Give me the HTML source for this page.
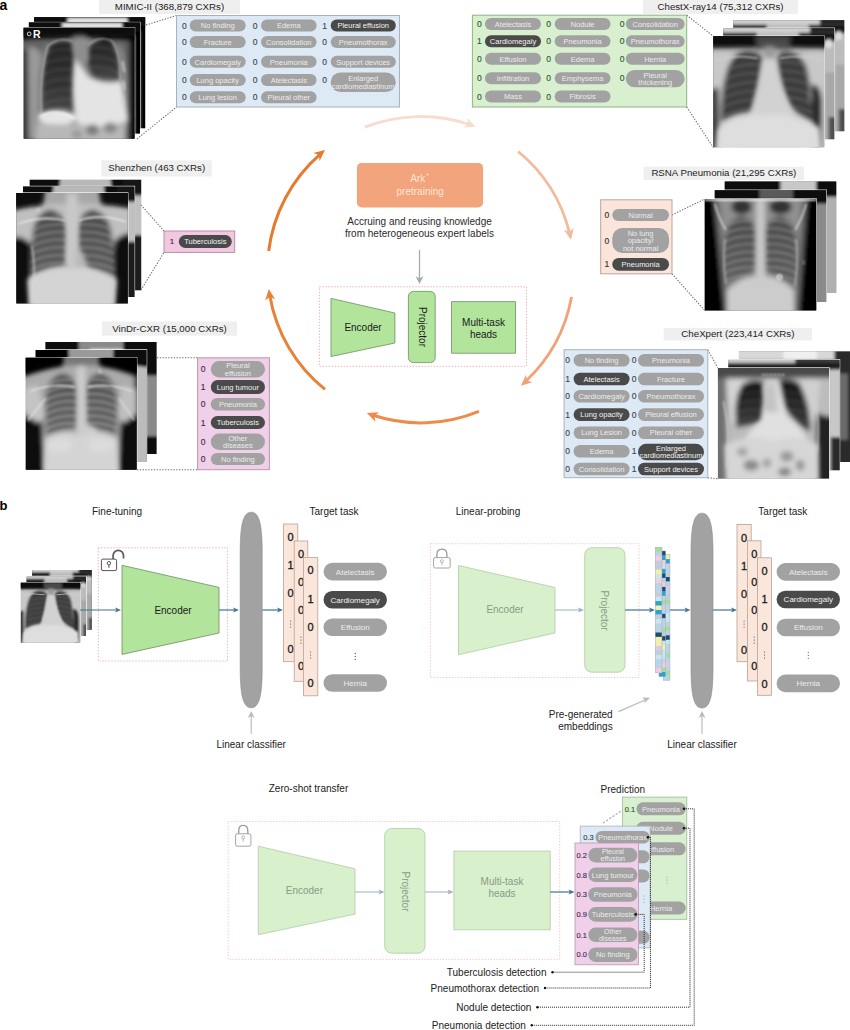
<!DOCTYPE html>
<html><head><meta charset="utf-8"><style>
html,body{margin:0;padding:0;background:#fff;}
body{width:850px;height:1030px;overflow:hidden;}
svg text{font-family:"Liberation Sans", sans-serif;}
</style></head><body>
<svg width="850" height="1030" viewBox="0 0 850 1030" style="display:block;font-family:"Liberation Sans", sans-serif">
<defs>
<filter id="xtex" x="0" y="0" width="100%" height="100%" filterUnits="userSpaceOnUse"><feTurbulence type="fractalNoise" baseFrequency="0.22" numOctaves="3" seed="5"/><feColorMatrix type="matrix" values="0 0 0 0 0  0 0 0 0 0  0 0 0 0 0  0 0 0 -3 1.6"/><feGaussianBlur stdDeviation="0.5"/></filter><filter id="xb0_6" x="-20%" y="-20%" width="140%" height="140%"><feGaussianBlur stdDeviation="0.6"/></filter><filter id="xb0_8" x="-20%" y="-20%" width="140%" height="140%"><feGaussianBlur stdDeviation="0.8"/></filter><filter id="xb1_0" x="-20%" y="-20%" width="140%" height="140%"><feGaussianBlur stdDeviation="1.0"/></filter><filter id="xb1_2" x="-20%" y="-20%" width="140%" height="140%"><feGaussianBlur stdDeviation="1.2"/></filter><filter id="xb1_5" x="-20%" y="-20%" width="140%" height="140%"><feGaussianBlur stdDeviation="1.5"/></filter><filter id="xb1_6" x="-20%" y="-20%" width="140%" height="140%"><feGaussianBlur stdDeviation="1.6"/></filter><filter id="xb2_0" x="-20%" y="-20%" width="140%" height="140%"><feGaussianBlur stdDeviation="2.0"/></filter><filter id="xb2_2" x="-20%" y="-20%" width="140%" height="140%"><feGaussianBlur stdDeviation="2.2"/></filter><filter id="xb2_5" x="-20%" y="-20%" width="140%" height="140%"><feGaussianBlur stdDeviation="2.5"/></filter><filter id="xb3_0" x="-20%" y="-20%" width="140%" height="140%"><feGaussianBlur stdDeviation="3.0"/></filter>
<linearGradient id="lg_sz" x1="0" y1="0" x2="0" y2="1"><stop offset="0" stop-color="#4a4a4a"/><stop offset="1" stop-color="#5e5e5e"/></linearGradient>
<linearGradient id="lg_vin" x1="0" y1="0" x2="0" y2="1"><stop offset="0" stop-color="#505050"/><stop offset="1" stop-color="#6a6a6a"/></linearGradient>
<linearGradient id="lg_rsna" x1="0" y1="0" x2="0" y2="1"><stop offset="0" stop-color="#4a4a4a"/><stop offset="1" stop-color="#606060"/></linearGradient>
<linearGradient id="lg_mim" x1="0" y1="0" x2="0" y2="1"><stop offset="0" stop-color="#242424"/><stop offset="0.6" stop-color="#333333"/><stop offset="1" stop-color="#4e4e4e"/></linearGradient>
<linearGradient id="lg_chx" x1="0" y1="0" x2="0" y2="1"><stop offset="0" stop-color="#141414"/><stop offset="1" stop-color="#404040"/></linearGradient>
<symbol id="cx_mimic" viewBox="0 0 100 100" preserveAspectRatio="none"><clipPath id="cl_cx_mimic"><path d="M16 78 Q14 40 22 16 Q32 8 44 12 L47 28 L46 80 Q30 82 16 78 Z"/><path d="M58 16 Q68 6 80 12 Q88 24 87 48 Q74 50 62 46 L57 34 Z"/></clipPath><rect width="100" height="100" fill="#060606"/><g filter="url(#xb2_2)"><path d="M-10 -10 H110 V110 H-10 Z" fill="#080808"/><path d="M-4 12 Q40 6 96 12 L96 104 L-4 104 Z" fill="#646464"/><path d="M-4 20 L5 20 L5 104 L-4 104 Z" fill="#3a3a3a"/><path d="M4 18 Q10 16 15 22 L15 100 L5 100 Z" fill="#9a9a9a"/><path d="M95 8 L106 8 L106 104 L95 104 Z" fill="#060606"/><path d="M88 20 Q96 30 95 60 L95 104 L88 104 Z" fill="#5e5e5e"/><path d="M12 92 Q8 40 20 16 Q34 6 50 10 Q76 6 88 18 Q96 40 92 90 Z" fill="#909090"/><path d="M16 78 Q14 40 22 16 Q32 8 44 12 L47 28 L46 80 Q30 82 16 78 Z" fill="url(#lg_mim)"/><path d="M58 16 Q68 6 80 12 Q88 24 87 48 Q74 50 62 46 L57 34 Z" fill="url(#lg_mim)"/></g><g filter="url(#xb1_6)"><g clip-path="url(#cl_cx_mimic)"><path d="M47 20 Q28.85 17 14 26" fill="none" stroke="#8a8a8a" stroke-opacity="0.15" stroke-width="2.4"/><path d="M47 29 Q28.85 26 14 35" fill="none" stroke="#8a8a8a" stroke-opacity="0.15" stroke-width="2.4"/><path d="M47 38 Q28.85 35 14 44" fill="none" stroke="#8a8a8a" stroke-opacity="0.15" stroke-width="2.4"/><path d="M47 47 Q28.85 44 14 53" fill="none" stroke="#8a8a8a" stroke-opacity="0.15" stroke-width="2.4"/><path d="M47 56 Q28.85 53 14 62" fill="none" stroke="#8a8a8a" stroke-opacity="0.15" stroke-width="2.4"/><path d="M47 65 Q28.85 62 14 71" fill="none" stroke="#8a8a8a" stroke-opacity="0.15" stroke-width="2.4"/><path d="M47 74 Q28.85 71 14 80" fill="none" stroke="#8a8a8a" stroke-opacity="0.15" stroke-width="2.4"/><path d="M56 18 Q73.6 15 88 24" fill="none" stroke="#8a8a8a" stroke-opacity="0.15" stroke-width="2.4"/><path d="M56 27 Q73.6 24 88 33" fill="none" stroke="#8a8a8a" stroke-opacity="0.15" stroke-width="2.4"/><path d="M56 36 Q73.6 33 88 42" fill="none" stroke="#8a8a8a" stroke-opacity="0.15" stroke-width="2.4"/><path d="M56 45 Q73.6 42 88 51" fill="none" stroke="#8a8a8a" stroke-opacity="0.15" stroke-width="2.4"/></g></g><g filter="url(#xb2_2)"><path d="M45 4 L56 4 L57 30 L46 30 Z" fill="#8e8e8e"/><path d="M46 28 Q52 34 58 44 Q74 52 88 48 L94 84 Q70 94 48 86 Q42 60 46 28 Z" fill="#e4e4e4"/><ellipse cx="30" cy="81" rx="17" ry="7" fill="#e6e6e6"/><path d="M12 86 Q40 88 50 86 Q70 94 92 86 L92 104 L10 104 Z" fill="#b8b8b8"/><ellipse cx="62" cy="92" rx="6" ry="5" fill="#7a7a7a"/><ellipse cx="78" cy="90" rx="6" ry="5" fill="#868686"/><ellipse cx="48" cy="96" rx="5" ry="4" fill="#9a9a9a"/><path d="M-10 -10 L110 -10 L110 8 L-10 8 Z" fill="#090909"/></g><g filter="url(#xb0_8)"><path d="M16 78 Q14 40 22 16 Q32 8 44 12" fill="none" stroke="#b8b8b8" stroke-width="1.2"/><path d="M58 16 Q68 6 80 12 Q88 24 87 48" fill="none" stroke="#b0b0b0" stroke-width="1.2"/><path d="M15 80 Q30 72 46 82" fill="none" stroke="#f4f4f4" stroke-width="1.6"/><path d="M89 30 L91 40 M90 48 L91 56 M89 62 L90 70" stroke="#d0d0d0" stroke-width="1.4"/></g><text x="8.5" y="9.5" font-size="9.5" font-weight="bold" fill="#ffffff" font-family="Liberation Sans">R</text><circle cx="5" cy="5.5" r="1.7" fill="none" stroke="#ddd" stroke-width="0.9"/></symbol>
<symbol id="cx_mimic_b" viewBox="0 0 100 100" preserveAspectRatio="none"><clipPath id="cl_cx_mimic_b"><path d="M16 78 Q14 40 22 16 Q32 8 44 12 L47 28 L46 80 Q30 82 16 78 Z"/><path d="M58 16 Q68 6 80 12 Q88 24 87 48 Q74 50 62 46 L57 34 Z"/></clipPath><rect width="100" height="100" fill="#060606"/><g filter="url(#xb1_6)"><path d="M-10 -10 H110 V110 H-10 Z" fill="#080808"/><path d="M-4 12 Q40 6 96 12 L96 104 L-4 104 Z" fill="#646464"/><path d="M-4 20 L5 20 L5 104 L-4 104 Z" fill="#3a3a3a"/><path d="M4 18 Q10 16 15 22 L15 100 L5 100 Z" fill="#9a9a9a"/><path d="M95 8 L106 8 L106 104 L95 104 Z" fill="#060606"/><path d="M88 20 Q96 30 95 60 L95 104 L88 104 Z" fill="#5e5e5e"/><path d="M12 92 Q8 40 20 16 Q34 6 50 10 Q76 6 88 18 Q96 40 92 90 Z" fill="#909090"/><path d="M16 78 Q14 40 22 16 Q32 8 44 12 L47 28 L46 80 Q30 82 16 78 Z" fill="#3a3a3a"/><path d="M58 16 Q68 6 80 12 Q88 24 87 48 Q74 50 62 46 L57 34 Z" fill="#3a3a3a"/></g><g filter="url(#xb1_6)"><g clip-path="url(#cl_cx_mimic_b)"></g></g><g filter="url(#xb1_6)"><path d="M45 4 L56 4 L57 30 L46 30 Z" fill="#8e8e8e"/><path d="M46 28 Q52 34 58 44 Q74 52 88 48 L94 84 Q70 94 48 86 Q42 60 46 28 Z" fill="#e4e4e4"/><ellipse cx="30" cy="81" rx="17" ry="7" fill="#e6e6e6"/><path d="M12 86 Q40 88 50 86 Q70 94 92 86 L92 104 L10 104 Z" fill="#b8b8b8"/><ellipse cx="62" cy="92" rx="6" ry="5" fill="#7a7a7a"/><ellipse cx="78" cy="90" rx="6" ry="5" fill="#868686"/><ellipse cx="48" cy="96" rx="5" ry="4" fill="#9a9a9a"/><path d="M-10 -10 L110 -10 L110 8 L-10 8 Z" fill="#090909"/><path d="M30 0.5 L84 0.5 L84 5.5 L30 5.5 Z" fill="#e8e8e8"/></g><g filter="url(#xb0_8)"></g></symbol>
<symbol id="cx_14" viewBox="0 0 100 100" preserveAspectRatio="none"><clipPath id="cl_cx_14"><path d="M25 14 Q38 10 45 20 L41 45 Q37 60 35 68 Q20 70 7 77 Q7 50 11 36 Q15 18 25 14 Z"/><path d="M65 14 Q78 13 84 28 Q88 44 87 56 Q90 70 91 79 Q78 72 69 65 Q60 50 57 20 Q60 13 65 14 Z"/></clipPath><rect width="100" height="100" fill="#060606"/><g filter="url(#xb2_2)"><path d="M-10 -10 H110 V110 H-10 Z" fill="#0a0a0a"/><path d="M-4 11 Q50 8 104 11 L104 104 L-4 104 Z" fill="#b6b6b6"/><path d="M-4 14 Q15 12 30 20 L22 104 L-4 104 Z" fill="#c8c8c8"/><path d="M104 14 Q85 12 70 20 L78 104 L104 104 Z" fill="#c8c8c8"/><path d="M-4 48 L5 46 L6 104 L-4 104 Z" fill="#404040"/><path d="M88 44 Q97 42 98 60 L98 104 L89 104 Z" fill="#2a2a2a"/><path d="M36 0 L72 0 L70 12 L38 12 Z" fill="#5a5a5a"/><path d="M25 14 Q38 10 45 20 L41 45 Q37 60 35 68 Q20 70 7 77 Q7 50 11 36 Q15 18 25 14 Z" fill="#3c3c3c"/><path d="M65 14 Q78 13 84 28 Q88 44 87 56 Q90 70 91 79 Q78 72 69 65 Q60 50 57 20 Q60 13 65 14 Z" fill="#3c3c3c"/></g><g filter="url(#xb1_6)"><g clip-path="url(#cl_cx_14)"><path d="M49 26 Q26.45 23 8 32" fill="none" stroke="#7a7a7a" stroke-opacity="0.35" stroke-width="2.2"/><path d="M49 34 Q26.45 31 8 40" fill="none" stroke="#7a7a7a" stroke-opacity="0.35" stroke-width="2.2"/><path d="M49 42 Q26.45 39 8 48" fill="none" stroke="#7a7a7a" stroke-opacity="0.35" stroke-width="2.2"/><path d="M49 50 Q26.45 47 8 56" fill="none" stroke="#7a7a7a" stroke-opacity="0.35" stroke-width="2.2"/><path d="M49 58 Q26.45 55 8 64" fill="none" stroke="#7a7a7a" stroke-opacity="0.35" stroke-width="2.2"/><path d="M49 66 Q26.45 63 8 72" fill="none" stroke="#7a7a7a" stroke-opacity="0.35" stroke-width="2.2"/><path d="M49 74 Q26.45 71 8 80" fill="none" stroke="#7a7a7a" stroke-opacity="0.35" stroke-width="2.2"/><path d="M56 24 Q75.25 21 91 30" fill="none" stroke="#7a7a7a" stroke-opacity="0.35" stroke-width="2.2"/><path d="M56 32 Q75.25 29 91 38" fill="none" stroke="#7a7a7a" stroke-opacity="0.35" stroke-width="2.2"/><path d="M56 40 Q75.25 37 91 46" fill="none" stroke="#7a7a7a" stroke-opacity="0.35" stroke-width="2.2"/><path d="M56 48 Q75.25 45 91 54" fill="none" stroke="#7a7a7a" stroke-opacity="0.35" stroke-width="2.2"/><path d="M56 56 Q75.25 53 91 62" fill="none" stroke="#7a7a7a" stroke-opacity="0.35" stroke-width="2.2"/><path d="M56 64 Q75.25 61 91 70" fill="none" stroke="#7a7a7a" stroke-opacity="0.35" stroke-width="2.2"/><path d="M56 72 Q75.25 69 91 78" fill="none" stroke="#7a7a7a" stroke-opacity="0.35" stroke-width="2.2"/></g></g><g filter="url(#xb2_2)"><path d="M46 8 L55 8 L56 26 L47 26 Z" fill="#9a9a9a"/><path d="M45 20 L56 20 Q60 45 70 64 L76 74 L30 74 L35 66 Q41 45 45 20 Z" fill="#d2d2d2"/><path d="M4 84 Q25 66 46 72 Q62 66 96 82 L98 104 L2 104 Z" fill="#dedede"/><path d="M-10 -10 L110 -10 L110 9 L-10 9 Z" fill="#0c0c0c"/><path d="M38 0 L70 0 L68 9 L40 9 Z" fill="#4a4a4a"/></g><g filter="url(#xb0_8)"><path d="M2 22 Q20 16 40 20" fill="none" stroke="#d0d0d0" stroke-width="1.2"/><path d="M98 22 Q80 16 60 20" fill="none" stroke="#d0d0d0" stroke-width="1.2"/></g></symbol>
<symbol id="cx_14_b" viewBox="0 0 100 100" preserveAspectRatio="none"><clipPath id="cl_cx_14_b"></clipPath><rect width="100" height="100" fill="#060606"/><g filter="url(#xb1_6)"><path d="M-10 -10 H110 V110 H-10 Z" fill="#bcbcbc"/><path d="M-10 -10 L110 -10 L110 4 L-10 4 Z" fill="#d0d0d0"/><path d="M-10 4 L30 4 L30 12 L-10 12 Z" fill="#151515"/><path d="M68 4 L110 4 L110 12 L68 12 Z" fill="#151515"/><path d="M78 -10 L110 -10 L110 4 L78 4 Z" fill="#222"/><path d="M92 40 L104 40 L104 104 L92 104 Z" fill="#a8a8a8"/><path d="M95 80 L104 80 L104 104 L95 104 Z" fill="#505050"/><ellipse cx="95" cy="14" rx="3" ry="4" fill="#e0e0e0"/></g><g filter="url(#xb1_6)"><g clip-path="url(#cl_cx_14_b)"></g></g><g filter="url(#xb1_6)"></g><g filter="url(#xb0_8)"></g></symbol>
<symbol id="cx_sz" viewBox="0 0 100 100" preserveAspectRatio="none"><clipPath id="cl_cx_sz"><path d="M30 15 Q18 18 15 34 Q12 56 13 76 Q30 70 46 66 L47 40 Q46 18 30 15 Z"/><path d="M68 15 Q82 18 85 34 Q89 56 88 78 Q72 72 55 66 L54 40 Q54 18 68 15 Z"/></clipPath><rect width="100" height="100" fill="#060606"/><g filter="url(#xb2_2)"><path d="M-10 -10 H110 V110 H-10 Z" fill="#0a0a0a"/><path d="M26 -4 L74 -4 L76 14 L24 14 Z" fill="#a8a8a8"/><path d="M-4 16 Q16 10 30 10 L70 10 Q84 10 104 14 L104 38 Q94 36 88 44 L86 104 L14 104 L13 46 Q8 40 -4 42 Z" fill="#c0c0c0"/><path d="M-4 40 Q8 38 13 48 L14 104 L-4 104 Z" fill="#0c0c0c"/><path d="M104 36 Q94 36 88 46 L86 104 L104 104 Z" fill="#0c0c0c"/><path d="M30 15 Q18 18 15 34 Q12 56 13 76 Q30 70 46 66 L47 40 Q46 18 30 15 Z" fill="url(#lg_sz)"/><path d="M68 15 Q82 18 85 34 Q89 56 88 78 Q72 72 55 66 L54 40 Q54 18 68 15 Z" fill="url(#lg_sz)"/></g><g filter="url(#xb1_6)"><g clip-path="url(#cl_cx_sz)"><path d="M48 22 Q28.2 19 12 28" fill="none" stroke="#a0a0a0" stroke-opacity="0.45" stroke-width="2.4"/><path d="M48 29 Q28.2 26 12 35" fill="none" stroke="#a0a0a0" stroke-opacity="0.45" stroke-width="2.4"/><path d="M48 36 Q28.2 33 12 42" fill="none" stroke="#a0a0a0" stroke-opacity="0.45" stroke-width="2.4"/><path d="M48 43 Q28.2 40 12 49" fill="none" stroke="#a0a0a0" stroke-opacity="0.45" stroke-width="2.4"/><path d="M48 50 Q28.2 47 12 56" fill="none" stroke="#a0a0a0" stroke-opacity="0.45" stroke-width="2.4"/><path d="M48 57 Q28.2 54 12 63" fill="none" stroke="#a0a0a0" stroke-opacity="0.45" stroke-width="2.4"/><path d="M48 64 Q28.2 61 12 70" fill="none" stroke="#a0a0a0" stroke-opacity="0.45" stroke-width="2.4"/><path d="M48 71 Q28.2 68 12 77" fill="none" stroke="#a0a0a0" stroke-opacity="0.45" stroke-width="2.4"/><path d="M52 22 Q72.9 19 90 28" fill="none" stroke="#a0a0a0" stroke-opacity="0.45" stroke-width="2.4"/><path d="M52 29 Q72.9 26 90 35" fill="none" stroke="#a0a0a0" stroke-opacity="0.45" stroke-width="2.4"/><path d="M52 36 Q72.9 33 90 42" fill="none" stroke="#a0a0a0" stroke-opacity="0.45" stroke-width="2.4"/><path d="M52 43 Q72.9 40 90 49" fill="none" stroke="#a0a0a0" stroke-opacity="0.45" stroke-width="2.4"/><path d="M52 50 Q72.9 47 90 56" fill="none" stroke="#a0a0a0" stroke-opacity="0.45" stroke-width="2.4"/><path d="M52 57 Q72.9 54 90 63" fill="none" stroke="#a0a0a0" stroke-opacity="0.45" stroke-width="2.4"/><path d="M52 64 Q72.9 61 90 70" fill="none" stroke="#a0a0a0" stroke-opacity="0.45" stroke-width="2.4"/><path d="M52 71 Q72.9 68 90 77" fill="none" stroke="#a0a0a0" stroke-opacity="0.45" stroke-width="2.4"/></g></g><g filter="url(#xb2_2)"><path d="M45 0 L55 0 L56 66 L44 66 Z" fill="#c8c8c8"/><path d="M54 48 Q62 54 64 68 L54 70 Z" fill="#b8b8b8"/><path d="M10 78 Q30 64 48 68 Q68 64 90 78 L88 104 L12 104 Z" fill="#d4d4d4"/><path d="M-10 -10 L26 -10 L22 11 Q10 11 -10 16 Z" fill="#0a0a0a"/><path d="M110 -10 L74 -10 L78 10 Q90 10 110 14 Z" fill="#0a0a0a"/></g><g filter="url(#xb0_8)"><path d="M2 28 Q22 20 44 25" fill="none" stroke="#e8e8e8" stroke-width="1.3"/><path d="M98 26 Q76 18 56 25" fill="none" stroke="#e8e8e8" stroke-width="1.3"/><path d="M14 48 Q18 70 14 100" fill="none" stroke="#d8d8d8" stroke-width="1"/><text x="18" y="17" font-size="5" fill="#ddd" font-family="Liberation Sans">R</text></g></symbol>
<symbol id="cx_sz_b" viewBox="0 0 100 100" preserveAspectRatio="none"><clipPath id="cl_cx_sz_b"></clipPath><rect width="100" height="100" fill="#060606"/><g filter="url(#xb1_6)"><path d="M-10 -10 H110 V110 H-10 Z" fill="#0a0a0a"/><path d="M28 -4 L72 -4 L74 12 L26 12 Z" fill="#b8b8b8"/><path d="M-4 14 L104 14 L104 104 L-4 104 Z" fill="#c0c0c0"/><path d="M90 50 L104 50 L104 104 L90 104 Z" fill="#1a1a1a"/><path d="M84 -4 L104 -4 L104 14 L84 14 Z" fill="#181818"/></g><g filter="url(#xb1_6)"><g clip-path="url(#cl_cx_sz_b)"></g></g><g filter="url(#xb1_6)"></g><g filter="url(#xb0_8)"></g></symbol>
<symbol id="cx_vin" viewBox="0 0 100 100" preserveAspectRatio="none"><clipPath id="cl_cx_vin"><path d="M32 14 Q20 18 18 34 Q16 54 19 70 Q34 66 47 62 L48 36 Q46 14 32 14 Z"/><path d="M68 14 Q80 18 82 34 Q84 54 81 70 Q66 66 53 60 L52 36 Q54 14 68 14 Z"/></clipPath><rect width="100" height="100" fill="#060606"/><g filter="url(#xb2_2)"><path d="M-10 -10 H110 V110 H-10 Z" fill="#060606"/><path d="M34 -4 L66 -4 L66 14 L34 14 Z" fill="#787878"/><path d="M-4 18 Q20 9 36 7 L64 7 Q80 9 98 17 L98 46 Q90 46 86 54 L84 104 L16 104 L14 54 Q8 46 -4 46 Z" fill="#acacac"/><path d="M-4 47 Q8 49 15 60 L17 104 L-4 104 Z" fill="#0a0a0a"/><path d="M104 45 Q94 49 85 60 L83 104 L104 104 Z" fill="#0a0a0a"/><path d="M-2 28 L10 24 L19 52 L11 58 L-2 50 Z" fill="#c4c4c4"/><path d="M100 28 L88 24 L81 52 L89 58 L100 50 Z" fill="#c0c0c0"/><path d="M32 14 Q20 18 18 34 Q16 54 19 70 Q34 66 47 62 L48 36 Q46 14 32 14 Z" fill="url(#lg_vin)"/><path d="M68 14 Q80 18 82 34 Q84 54 81 70 Q66 66 53 60 L52 36 Q54 14 68 14 Z" fill="url(#lg_vin)"/></g><g filter="url(#xb1_6)"><g clip-path="url(#cl_cx_vin)"><path d="M49 20.0 Q30.85 17.0 16 26.0" fill="none" stroke="#a8a8a8" stroke-opacity="0.6" stroke-width="2.0"/><path d="M49 26.5 Q30.85 23.5 16 32.5" fill="none" stroke="#a8a8a8" stroke-opacity="0.6" stroke-width="2.0"/><path d="M49 33.0 Q30.85 30.0 16 39.0" fill="none" stroke="#a8a8a8" stroke-opacity="0.6" stroke-width="2.0"/><path d="M49 39.5 Q30.85 36.5 16 45.5" fill="none" stroke="#a8a8a8" stroke-opacity="0.6" stroke-width="2.0"/><path d="M49 46.0 Q30.85 43.0 16 52.0" fill="none" stroke="#a8a8a8" stroke-opacity="0.6" stroke-width="2.0"/><path d="M49 52.5 Q30.85 49.5 16 58.5" fill="none" stroke="#a8a8a8" stroke-opacity="0.6" stroke-width="2.0"/><path d="M49 59.0 Q30.85 56.0 16 65.0" fill="none" stroke="#a8a8a8" stroke-opacity="0.6" stroke-width="2.0"/><path d="M49 65.5 Q30.85 62.5 16 71.5" fill="none" stroke="#a8a8a8" stroke-opacity="0.6" stroke-width="2.0"/><path d="M51 20.0 Q70.25 17.0 86 26.0" fill="none" stroke="#a8a8a8" stroke-opacity="0.6" stroke-width="2.0"/><path d="M51 26.5 Q70.25 23.5 86 32.5" fill="none" stroke="#a8a8a8" stroke-opacity="0.6" stroke-width="2.0"/><path d="M51 33.0 Q70.25 30.0 86 39.0" fill="none" stroke="#a8a8a8" stroke-opacity="0.6" stroke-width="2.0"/><path d="M51 39.5 Q70.25 36.5 86 45.5" fill="none" stroke="#a8a8a8" stroke-opacity="0.6" stroke-width="2.0"/><path d="M51 46.0 Q70.25 43.0 86 52.0" fill="none" stroke="#a8a8a8" stroke-opacity="0.6" stroke-width="2.0"/><path d="M51 52.5 Q70.25 49.5 86 58.5" fill="none" stroke="#a8a8a8" stroke-opacity="0.6" stroke-width="2.0"/><path d="M51 59.0 Q70.25 56.0 86 65.0" fill="none" stroke="#a8a8a8" stroke-opacity="0.6" stroke-width="2.0"/><path d="M51 65.5 Q70.25 62.5 86 71.5" fill="none" stroke="#a8a8a8" stroke-opacity="0.6" stroke-width="2.0"/></g></g><g filter="url(#xb2_2)"><path d="M46 8 L54 8 L55 60 Q66 62 66 72 L46 74 Z" fill="#cccccc"/><path d="M18 72 Q34 62 50 70 Q66 62 82 72 L84 104 L16 104 Z" fill="#d4d4d4"/><ellipse cx="30" cy="78" rx="12" ry="6" fill="#dcdcdc"/><ellipse cx="68" cy="78" rx="12" ry="6" fill="#dcdcdc"/><path d="M-10 -10 L34 -10 L32 7 Q14 9 -10 18 Z" fill="#060606"/><path d="M110 -10 L66 -10 L68 7 Q86 9 110 17 Z" fill="#060606"/></g><g filter="url(#xb0_8)"><path d="M4 30 Q24 22 44 26" fill="none" stroke="#e4e4e4" stroke-width="1.3"/><path d="M96 30 Q76 22 56 26" fill="none" stroke="#e4e4e4" stroke-width="1.3"/><path d="M2 56 L18 36" stroke="#e8e8e8" stroke-width="1.1"/><path d="M98 56 L84 36" stroke="#e0e0e0" stroke-width="1.1"/><text x="66" y="14" font-size="5" font-weight="bold" fill="#eee" font-family="Liberation Sans">L</text></g></symbol>
<symbol id="cx_vin_b" viewBox="0 0 100 100" preserveAspectRatio="none"><clipPath id="cl_cx_vin_b"></clipPath><rect width="100" height="100" fill="#060606"/><g filter="url(#xb1_6)"><path d="M-10 -10 H110 V110 H-10 Z" fill="#060606"/><path d="M30 -4 L70 -4 L70 12 L30 12 Z" fill="#9a9a9a"/><path d="M-4 12 L104 12 L104 104 L-4 104 Z" fill="#a0a0a0"/><path d="M88 14 L104 14 L104 104 L88 104 Z" fill="#bcbcbc"/><path d="M70 -4 L104 -4 L104 16 L70 12 Z" fill="#0a0a0a"/></g><g filter="url(#xb1_6)"><g clip-path="url(#cl_cx_vin_b)"></g></g><g filter="url(#xb1_6)"></g><g filter="url(#xb0_8)"></g></symbol>
<symbol id="cx_vin_b2" viewBox="0 0 100 100" preserveAspectRatio="none"><clipPath id="cl_cx_vin_b2"></clipPath><rect width="100" height="100" fill="#060606"/><g filter="url(#xb1_6)"><path d="M-10 -10 H110 V110 H-10 Z" fill="#080808"/><path d="M30 -4 L70 -4 L70 8 L30 8 Z" fill="#8a8a8a"/><path d="M40 6 L70 6 L70 14 L40 14 Z" fill="#d0d0d0"/><path d="M86 30 L104 30 L104 84 L86 84 Z" fill="#8a8a8a"/></g><g filter="url(#xb1_6)"><g clip-path="url(#cl_cx_vin_b2)"></g></g><g filter="url(#xb1_6)"></g><g filter="url(#xb0_8)"></g></symbol>
<symbol id="cx_rsna" viewBox="0 0 100 100" preserveAspectRatio="none"><clipPath id="cl_cx_rsna"><path d="M32 16 Q20 19 18 36 Q16 56 19 76 Q34 70 47 64 L47 36 Q46 17 32 16 Z"/><path d="M68 16 Q80 19 82 36 Q84 56 81 78 Q66 70 53 64 L53 36 Q54 17 68 16 Z"/></clipPath><rect width="100" height="100" fill="#060606"/><g filter="url(#xb2_2)"><path d="M-10 -10 H110 V110 H-10 Z" fill="#060606"/><path d="M8 -4 L92 -4 L84 104 L18 104 Z" fill="#6a6a6a"/><path d="M13 -4 L87 -4 L80 104 L22 104 Z" fill="#909090"/><ellipse cx="33" cy="7" rx="9" ry="7" fill="#303030"/><ellipse cx="68" cy="7" rx="10" ry="7" fill="#303030"/><path d="M32 16 Q20 19 18 36 Q16 56 19 76 Q34 70 47 64 L47 36 Q46 17 32 16 Z" fill="url(#lg_rsna)"/><path d="M68 16 Q80 19 82 36 Q84 56 81 78 Q66 70 53 64 L53 36 Q54 17 68 16 Z" fill="url(#lg_rsna)"/></g><g filter="url(#xb1_6)"><g clip-path="url(#cl_cx_rsna)"><path d="M49 20 Q30.3 17 15 26" fill="none" stroke="#a0a0a0" stroke-opacity="0.45" stroke-width="2.2"/><path d="M49 27 Q30.3 24 15 33" fill="none" stroke="#a0a0a0" stroke-opacity="0.45" stroke-width="2.2"/><path d="M49 34 Q30.3 31 15 40" fill="none" stroke="#a0a0a0" stroke-opacity="0.45" stroke-width="2.2"/><path d="M49 41 Q30.3 38 15 47" fill="none" stroke="#a0a0a0" stroke-opacity="0.45" stroke-width="2.2"/><path d="M49 48 Q30.3 45 15 54" fill="none" stroke="#a0a0a0" stroke-opacity="0.45" stroke-width="2.2"/><path d="M49 55 Q30.3 52 15 61" fill="none" stroke="#a0a0a0" stroke-opacity="0.45" stroke-width="2.2"/><path d="M49 62 Q30.3 59 15 68" fill="none" stroke="#a0a0a0" stroke-opacity="0.45" stroke-width="2.2"/><path d="M49 69 Q30.3 66 15 75" fill="none" stroke="#a0a0a0" stroke-opacity="0.45" stroke-width="2.2"/><path d="M51 20 Q69.7 17 85 26" fill="none" stroke="#a0a0a0" stroke-opacity="0.45" stroke-width="2.2"/><path d="M51 27 Q69.7 24 85 33" fill="none" stroke="#a0a0a0" stroke-opacity="0.45" stroke-width="2.2"/><path d="M51 34 Q69.7 31 85 40" fill="none" stroke="#a0a0a0" stroke-opacity="0.45" stroke-width="2.2"/><path d="M51 41 Q69.7 38 85 47" fill="none" stroke="#a0a0a0" stroke-opacity="0.45" stroke-width="2.2"/><path d="M51 48 Q69.7 45 85 54" fill="none" stroke="#a0a0a0" stroke-opacity="0.45" stroke-width="2.2"/><path d="M51 55 Q69.7 52 85 61" fill="none" stroke="#a0a0a0" stroke-opacity="0.45" stroke-width="2.2"/><path d="M51 62 Q69.7 59 85 68" fill="none" stroke="#a0a0a0" stroke-opacity="0.45" stroke-width="2.2"/><path d="M51 69 Q69.7 66 85 75" fill="none" stroke="#a0a0a0" stroke-opacity="0.45" stroke-width="2.2"/></g></g><g filter="url(#xb2_2)"><path d="M46 0 L54 0 L55 104 L45 104 Z" fill="#c8c8c8"/><path d="M20 82 Q36 66 50 70 Q64 66 80 82 L80 104 L20 104 Z" fill="#cccccc"/></g><g filter="url(#xb0_8)"><path d="M0 0.8 L100 0.8" stroke="#f4f4f4" stroke-width="1.4"/><path d="M9 4 Q12 16 19 28 M91 4 Q88 16 81 28" fill="none" stroke="#d8d8d8" stroke-width="1.3"/><path d="M18 36 Q16 56 19 76 M82 36 Q84 56 81 78" fill="none" stroke="#b8b8b8" stroke-width="1.2"/><circle cx="67" cy="70" r="2" fill="none" stroke="#fff" stroke-width="1"/><text x="88" y="58" font-size="5" fill="#ddd" font-family="Liberation Sans">L</text></g></symbol>
<symbol id="cx_rsna_b" viewBox="0 0 100 100" preserveAspectRatio="none"><clipPath id="cl_cx_rsna_b"></clipPath><rect width="100" height="100" fill="#060606"/><g filter="url(#xb1_6)"><path d="M-10 -10 H110 V110 H-10 Z" fill="#0c0c0c"/><path d="M40 -4 L70 -4 L70 8 L40 8 Z" fill="#5a5a5a"/><path d="M-4 10 L104 10 L104 104 L-4 104 Z" fill="#7a7a7a"/><path d="M86 12 L104 12 L104 104 L86 104 Z" fill="#8a8a8a"/><path d="M84 -4 L104 -4 L104 12 L84 12 Z" fill="#101010"/></g><g filter="url(#xb1_6)"><g clip-path="url(#cl_cx_rsna_b)"></g></g><g filter="url(#xb1_6)"></g><g filter="url(#xb0_8)"></g></symbol>
<symbol id="cx_rsna_b2" viewBox="0 0 100 100" preserveAspectRatio="none"><clipPath id="cl_cx_rsna_b2"></clipPath><rect width="100" height="100" fill="#060606"/><g filter="url(#xb1_6)"><path d="M-10 -10 H110 V110 H-10 Z" fill="#101010"/><path d="M50 -4 L82 -4 L82 9 L50 9 Z" fill="#c8c8c8"/><path d="M86 14 L104 14 L104 104 L86 104 Z" fill="#b0b0b0"/><path d="M84 -4 L104 -4 L104 14 L84 14 Z" fill="#101010"/></g><g filter="url(#xb1_6)"><g clip-path="url(#cl_cx_rsna_b2)"></g></g><g filter="url(#xb1_6)"></g><g filter="url(#xb0_8)"></g></symbol>
<symbol id="cx_chx" viewBox="0 0 100 100" preserveAspectRatio="none"><clipPath id="cl_cx_chx"><path d="M17 54 Q13 30 22 15 Q32 9 42 13 L43 30 L39 50 Q28 52 17 54 Z"/><path d="M55 11 Q66 8 74 15 Q84 36 83 58 Q70 52 60 36 Z"/></clipPath><rect width="100" height="100" fill="#060606"/><g filter="url(#xb2_2)"><path d="M-10 -10 H110 V110 H-10 Z" fill="#0a0a0a"/><path d="M-4 -4 L104 -4 L104 104 L-4 104 Z" fill="#bcbcbc"/><path d="M-4 6 L7 6 L9 104 L-4 104 Z" fill="#707070"/><path d="M88 40 Q96 44 104 44 L104 104 L89 104 Z" fill="#202020"/><path d="M-4 -4 L104 -4 L104 9 L-4 9 Z" fill="#4a4a4a"/><path d="M8 12 Q20 8 34 14 L30 40 L12 50 Z" fill="#d4d4d4"/><path d="M92 12 Q80 8 66 14 L70 40 L88 50 Z" fill="#d0d0d0"/><path d="M17 54 Q13 30 22 15 Q32 9 42 13 L43 30 L39 50 Q28 52 17 54 Z" fill="url(#lg_chx)"/><path d="M55 11 Q66 8 74 15 Q84 36 83 58 Q70 52 60 36 Z" fill="url(#lg_chx)"/></g><g filter="url(#xb1_6)"><g clip-path="url(#cl_cx_chx)"><path d="M42 14 Q26.6 12 14 18" fill="none" stroke="#6a6a6a" stroke-opacity="0.2" stroke-width="2.0"/><path d="M42 22 Q26.6 20 14 26" fill="none" stroke="#6a6a6a" stroke-opacity="0.2" stroke-width="2.0"/><path d="M42 30 Q26.6 28 14 34" fill="none" stroke="#6a6a6a" stroke-opacity="0.2" stroke-width="2.0"/><path d="M42 38 Q26.6 36 14 42" fill="none" stroke="#6a6a6a" stroke-opacity="0.2" stroke-width="2.0"/><path d="M42 46 Q26.6 44 14 50" fill="none" stroke="#6a6a6a" stroke-opacity="0.2" stroke-width="2.0"/><path d="M54 14 Q70.5 12 84 18" fill="none" stroke="#6a6a6a" stroke-opacity="0.2" stroke-width="2.0"/><path d="M54 22 Q70.5 20 84 26" fill="none" stroke="#6a6a6a" stroke-opacity="0.2" stroke-width="2.0"/><path d="M54 30 Q70.5 28 84 34" fill="none" stroke="#6a6a6a" stroke-opacity="0.2" stroke-width="2.0"/><path d="M54 38 Q70.5 36 84 42" fill="none" stroke="#6a6a6a" stroke-opacity="0.2" stroke-width="2.0"/><path d="M54 46 Q70.5 44 84 50" fill="none" stroke="#6a6a6a" stroke-opacity="0.2" stroke-width="2.0"/></g></g><g filter="url(#xb2_2)"><path d="M42 12 L54 12 Q57 30 62 44 Q80 58 84 74 L18 74 Q28 56 40 46 Z" fill="#e0e0e0"/><path d="M40 14 L52 14 L54 40 L42 40 Z" fill="#c4c4c4"/><path d="M6 70 Q30 58 50 66 Q72 58 90 70 L90 104 L8 104 Z" fill="#d6d6d6"/><ellipse cx="30" cy="88" rx="7" ry="5" fill="#8a8a8a"/><ellipse cx="62" cy="80" rx="6" ry="5" fill="#9a9a9a"/><ellipse cx="60" cy="94" rx="6" ry="4" fill="#868686"/><ellipse cx="44" cy="86" rx="4" ry="4" fill="#a0a0a0"/><ellipse cx="74" cy="88" rx="4" ry="5" fill="#969696"/><ellipse cx="22" cy="76" rx="5" ry="4" fill="#a4a4a4"/></g><g filter="url(#xb0_8)"><path d="M5 30 Q12 60 8 90" fill="none" stroke="#d0d0d0" stroke-width="1.1"/><path d="M85 22 Q93 46 89 76" fill="none" stroke="#d0d0d0" stroke-width="1.1"/><path d="M40 6 L60 6" stroke="#e8e8e8" stroke-width="1.2" stroke-dasharray="2 1.5"/></g></symbol>
<symbol id="cx_chx_b" viewBox="0 0 100 100" preserveAspectRatio="none"><clipPath id="cl_cx_chx_b"></clipPath><rect width="100" height="100" fill="#060606"/><g filter="url(#xb1_6)"><path d="M-10 -10 H110 V110 H-10 Z" fill="#a8a8a8"/><path d="M-10 -10 L110 -10 L110 3 L-10 3 Z" fill="#c8c8c8"/><path d="M-10 3 L110 3 L110 9 L-10 9 Z" fill="#1e1e1e"/><path d="M60 -10 L110 -10 L110 3 L60 3 Z" fill="#3a3a3a"/><path d="M90 9 L104 9 L104 104 L90 104 Z" fill="#c8c8c8"/><path d="M92 70 L104 70 L104 104 L92 104 Z" fill="#2a2a2a"/></g><g filter="url(#xb1_6)"><g clip-path="url(#cl_cx_chx_b)"></g></g><g filter="url(#xb1_6)"></g><g filter="url(#xb0_8)"></g></symbol>
<symbol id="cx_chx_b2" viewBox="0 0 100 100" preserveAspectRatio="none"><clipPath id="cl_cx_chx_b2"></clipPath><rect width="100" height="100" fill="#060606"/><g filter="url(#xb1_6)"><path d="M-10 -10 H110 V110 H-10 Z" fill="#303030"/><path d="M-10 -10 L110 -10 L110 8 L-10 8 Z" fill="#d8d8d8"/><path d="M40 -10 L70 -10 L70 8 L40 8 Z" fill="#f0f0f0"/><path d="M86 -10 L110 -10 L110 104 L86 104 Z" fill="#2a2a2a"/><path d="M90 20 L98 20 L98 80 L90 80 Z" fill="#6a6a6a"/></g><g filter="url(#xb1_6)"><g clip-path="url(#cl_cx_chx_b2)"></g></g><g filter="url(#xb1_6)"></g><g filter="url(#xb0_8)"></g></symbol>
<filter id="blur1"><feGaussianBlur stdDeviation="1"/></filter>
</defs>
<text x="-0.5" y="10.0" font-size="14" fill="#000" text-anchor="start" font-weight="bold" >a</text>
<rect x="99.0" y="0.0" width="141.0" height="14.0" rx="0" fill="#efefef" stroke="none" stroke-width="1" />
<text x="169.5" y="9.9" font-size="9.7" fill="#222" text-anchor="middle" font-weight="normal" >MIMIC-II (368,879 CXRs)</text>
<rect x="33.6" y="16.6" width="112.2" height="112.2" rx="0" fill="#fff" stroke="none" stroke-width="1" />
<use href="#cx_mimic_b" x="34.2" y="17.2" width="111.0" height="111.0"/>
<rect x="28.3" y="21.9" width="112.2" height="112.2" rx="0" fill="#fff" stroke="none" stroke-width="1" />
<use href="#cx_mimic_b" x="28.9" y="22.5" width="111.0" height="111.0"/>
<rect x="23.0" y="27.2" width="112.2" height="112.2" rx="0" fill="#fff" stroke="none" stroke-width="1" />
<use href="#cx_mimic" x="23.6" y="27.8" width="111.0" height="111.0"/>
<line x1="146" y1="25" x2="176.5" y2="15.5" stroke="#6a6a6a" stroke-width="1.1" stroke-dasharray="1.3 1.5"/>
<line x1="137" y1="139" x2="176.5" y2="107" stroke="#6a6a6a" stroke-width="1.1" stroke-dasharray="1.3 1.5"/>
<rect x="176.5" y="15.5" width="223.0" height="91.5" rx="0" fill="#dde9f5" stroke="#a8b2bc" stroke-width="1" />
<rect x="189.7" y="19.5" width="56.0" height="12.0" rx="6.0" fill="#a2a2a2" stroke="none" stroke-width="1" />
<text x="217.7" y="28.2" font-size="7.5" fill="#ececec" text-anchor="middle" font-weight="normal" >No finding</text>
<text x="184.4" y="28.6" font-size="8.5" fill="#3a4756" text-anchor="middle" font-weight="normal" stroke="#3a4756" stroke-width="0.15">0</text>
<rect x="261.0" y="19.5" width="55.6" height="12.0" rx="6.0" fill="#a2a2a2" stroke="none" stroke-width="1" />
<text x="288.8" y="28.2" font-size="7.5" fill="#ececec" text-anchor="middle" font-weight="normal" >Edema</text>
<text x="255.0" y="28.6" font-size="8.5" fill="#3a4756" text-anchor="middle" font-weight="normal" stroke="#3a4756" stroke-width="0.15">0</text>
<rect x="330.7" y="19.5" width="65.1" height="12.0" rx="6.0" fill="#4a4a4a" stroke="none" stroke-width="1" />
<text x="363.2" y="28.2" font-size="7.5" fill="#f2f2f2" text-anchor="middle" font-weight="normal" >Pleural effusion</text>
<text x="324.5" y="28.6" font-size="8.5" fill="#3a4756" text-anchor="middle" font-weight="normal" stroke="#3a4756" stroke-width="0.15">1</text>
<rect x="189.7" y="36.0" width="56.0" height="12.0" rx="6.0" fill="#a2a2a2" stroke="none" stroke-width="1" />
<text x="217.7" y="44.7" font-size="7.5" fill="#ececec" text-anchor="middle" font-weight="normal" >Fracture</text>
<text x="184.4" y="45.1" font-size="8.5" fill="#3a4756" text-anchor="middle" font-weight="normal" stroke="#3a4756" stroke-width="0.15">0</text>
<rect x="261.0" y="36.0" width="55.6" height="12.0" rx="6.0" fill="#a2a2a2" stroke="none" stroke-width="1" />
<text x="288.8" y="44.7" font-size="7.5" fill="#ececec" text-anchor="middle" font-weight="normal" >Consolidation</text>
<text x="255.0" y="45.1" font-size="8.5" fill="#3a4756" text-anchor="middle" font-weight="normal" stroke="#3a4756" stroke-width="0.15">0</text>
<rect x="330.7" y="36.0" width="65.1" height="12.0" rx="6.0" fill="#a2a2a2" stroke="none" stroke-width="1" />
<text x="363.2" y="44.7" font-size="7.5" fill="#ececec" text-anchor="middle" font-weight="normal" >Pneumothorax</text>
<text x="324.5" y="45.1" font-size="8.5" fill="#3a4756" text-anchor="middle" font-weight="normal" stroke="#3a4756" stroke-width="0.15">0</text>
<rect x="189.7" y="55.8" width="56.0" height="12.0" rx="6.0" fill="#a2a2a2" stroke="none" stroke-width="1" />
<text x="217.7" y="64.5" font-size="7.5" fill="#ececec" text-anchor="middle" font-weight="normal" >Cardiomegaly</text>
<text x="184.4" y="64.9" font-size="8.5" fill="#3a4756" text-anchor="middle" font-weight="normal" stroke="#3a4756" stroke-width="0.15">0</text>
<rect x="261.0" y="55.8" width="55.6" height="12.0" rx="6.0" fill="#a2a2a2" stroke="none" stroke-width="1" />
<text x="288.8" y="64.5" font-size="7.5" fill="#ececec" text-anchor="middle" font-weight="normal" >Pneumonia</text>
<text x="255.0" y="64.9" font-size="8.5" fill="#3a4756" text-anchor="middle" font-weight="normal" stroke="#3a4756" stroke-width="0.15">0</text>
<rect x="330.7" y="55.8" width="65.1" height="12.0" rx="6.0" fill="#a2a2a2" stroke="none" stroke-width="1" />
<text x="363.2" y="64.5" font-size="7.5" fill="#ececec" text-anchor="middle" font-weight="normal" >Support devices</text>
<text x="324.5" y="64.9" font-size="8.5" fill="#3a4756" text-anchor="middle" font-weight="normal" stroke="#3a4756" stroke-width="0.15">0</text>
<rect x="189.7" y="74.0" width="56.0" height="12.0" rx="6.0" fill="#a2a2a2" stroke="none" stroke-width="1" />
<text x="217.7" y="82.7" font-size="7.5" fill="#ececec" text-anchor="middle" font-weight="normal" >Lung opacity</text>
<text x="184.4" y="83.1" font-size="8.5" fill="#3a4756" text-anchor="middle" font-weight="normal" stroke="#3a4756" stroke-width="0.15">0</text>
<rect x="261.0" y="74.0" width="55.6" height="12.0" rx="6.0" fill="#a2a2a2" stroke="none" stroke-width="1" />
<text x="288.8" y="82.7" font-size="7.5" fill="#ececec" text-anchor="middle" font-weight="normal" >Atelectasis</text>
<text x="255.0" y="83.1" font-size="8.5" fill="#3a4756" text-anchor="middle" font-weight="normal" stroke="#3a4756" stroke-width="0.15">0</text>
<rect x="330.7" y="72.5" width="65.1" height="19.5" rx="9.75" fill="#a2a2a2" stroke="none" stroke-width="1" />
<text x="363.2" y="81.2" font-size="7.5" fill="#ececec" text-anchor="middle" font-weight="normal" >Enlarged</text>
<text x="363.2" y="88.7" font-size="7.5" fill="#ececec" text-anchor="middle" font-weight="normal" >cardiomediastinum</text>
<text x="324.5" y="83.1" font-size="8.5" fill="#3a4756" text-anchor="middle" font-weight="normal" stroke="#3a4756" stroke-width="0.15">0</text>
<rect x="189.7" y="91.2" width="56.0" height="12.0" rx="6.0" fill="#a2a2a2" stroke="none" stroke-width="1" />
<text x="217.7" y="99.9" font-size="7.5" fill="#ececec" text-anchor="middle" font-weight="normal" >Lung lesion</text>
<text x="184.4" y="100.3" font-size="8.5" fill="#3a4756" text-anchor="middle" font-weight="normal" stroke="#3a4756" stroke-width="0.15">0</text>
<rect x="261.0" y="91.2" width="55.6" height="12.0" rx="6.0" fill="#a2a2a2" stroke="none" stroke-width="1" />
<text x="288.8" y="99.9" font-size="7.5" fill="#ececec" text-anchor="middle" font-weight="normal" >Pleural other</text>
<text x="255.0" y="100.3" font-size="8.5" fill="#3a4756" text-anchor="middle" font-weight="normal" stroke="#3a4756" stroke-width="0.15">0</text>
<rect x="643.0" y="0.0" width="155.0" height="14.0" rx="0" fill="#efefef" stroke="none" stroke-width="1" />
<text x="720.5" y="9.9" font-size="9.7" fill="#222" text-anchor="middle" font-weight="normal" >ChestX-ray14 (75,312 CXRs)</text>
<rect x="732.7" y="19.6" width="112.2" height="112.2" rx="0" fill="#fff" stroke="none" stroke-width="1" />
<use href="#cx_14_b" x="733.3" y="20.2" width="111.0" height="111.0"/>
<rect x="722.7" y="27.6" width="112.2" height="112.2" rx="0" fill="#fff" stroke="none" stroke-width="1" />
<use href="#cx_14_b" x="723.3" y="28.2" width="111.0" height="111.0"/>
<rect x="712.7" y="35.6" width="112.2" height="112.2" rx="0" fill="#fff" stroke="none" stroke-width="1" />
<use href="#cx_14" x="713.3" y="36.2" width="111.0" height="111.0"/>
<line x1="686.7" y1="15.2" x2="713.3" y2="36.2" stroke="#6a6a6a" stroke-width="1.1" stroke-dasharray="1.3 1.5"/>
<line x1="686.7" y1="107" x2="713.3" y2="147.5" stroke="#6a6a6a" stroke-width="1.1" stroke-dasharray="1.3 1.5"/>
<rect x="472.4" y="15.2" width="214.3" height="91.8" rx="0" fill="#d8f0cf" stroke="#8fb486" stroke-width="1" />
<rect x="485.0" y="17.9" width="56.0" height="12.0" rx="6.0" fill="#a2a2a2" stroke="none" stroke-width="1" />
<text x="513.0" y="26.6" font-size="7.5" fill="#ececec" text-anchor="middle" font-weight="normal" >Atelectasis</text>
<text x="479.4" y="27.0" font-size="8.5" fill="#2f5a2c" text-anchor="middle" font-weight="normal" stroke="#2f5a2c" stroke-width="0.15">0</text>
<rect x="554.7" y="17.9" width="55.8" height="12.0" rx="6.0" fill="#a2a2a2" stroke="none" stroke-width="1" />
<text x="582.6" y="26.6" font-size="7.5" fill="#ececec" text-anchor="middle" font-weight="normal" >Nodule</text>
<text x="548.6" y="27.0" font-size="8.5" fill="#2f5a2c" text-anchor="middle" font-weight="normal" stroke="#2f5a2c" stroke-width="0.15">0</text>
<rect x="625.8" y="17.9" width="58.8" height="12.0" rx="6.0" fill="#a2a2a2" stroke="none" stroke-width="1" />
<text x="655.2" y="26.6" font-size="7.5" fill="#ececec" text-anchor="middle" font-weight="normal" >Consolidation</text>
<text x="622.0" y="27.0" font-size="8.5" fill="#2f5a2c" text-anchor="middle" font-weight="normal" stroke="#2f5a2c" stroke-width="0.15">0</text>
<rect x="485.0" y="35.2" width="56.0" height="12.0" rx="6.0" fill="#4a4a4a" stroke="none" stroke-width="1" />
<text x="513.0" y="43.9" font-size="7.5" fill="#f2f2f2" text-anchor="middle" font-weight="normal" >Cardiomegaly</text>
<text x="479.4" y="44.3" font-size="8.5" fill="#2f5a2c" text-anchor="middle" font-weight="normal" stroke="#2f5a2c" stroke-width="0.15">1</text>
<rect x="554.7" y="35.2" width="55.8" height="12.0" rx="6.0" fill="#a2a2a2" stroke="none" stroke-width="1" />
<text x="582.6" y="43.9" font-size="7.5" fill="#ececec" text-anchor="middle" font-weight="normal" >Pneumonia</text>
<text x="548.6" y="44.3" font-size="8.5" fill="#2f5a2c" text-anchor="middle" font-weight="normal" stroke="#2f5a2c" stroke-width="0.15">0</text>
<rect x="625.8" y="35.2" width="58.8" height="12.0" rx="6.0" fill="#a2a2a2" stroke="none" stroke-width="1" />
<text x="655.2" y="43.9" font-size="7.5" fill="#ececec" text-anchor="middle" font-weight="normal" >Pneumothorax</text>
<text x="622.0" y="44.3" font-size="8.5" fill="#2f5a2c" text-anchor="middle" font-weight="normal" stroke="#2f5a2c" stroke-width="0.15">0</text>
<rect x="485.0" y="52.8" width="56.0" height="12.0" rx="6.0" fill="#a2a2a2" stroke="none" stroke-width="1" />
<text x="513.0" y="61.5" font-size="7.5" fill="#ececec" text-anchor="middle" font-weight="normal" >Effusion</text>
<text x="479.4" y="61.9" font-size="8.5" fill="#2f5a2c" text-anchor="middle" font-weight="normal" stroke="#2f5a2c" stroke-width="0.15">0</text>
<rect x="554.7" y="52.8" width="55.8" height="12.0" rx="6.0" fill="#a2a2a2" stroke="none" stroke-width="1" />
<text x="582.6" y="61.5" font-size="7.5" fill="#ececec" text-anchor="middle" font-weight="normal" >Edema</text>
<text x="548.6" y="61.9" font-size="8.5" fill="#2f5a2c" text-anchor="middle" font-weight="normal" stroke="#2f5a2c" stroke-width="0.15">0</text>
<rect x="625.8" y="52.8" width="58.8" height="12.0" rx="6.0" fill="#a2a2a2" stroke="none" stroke-width="1" />
<text x="655.2" y="61.5" font-size="7.5" fill="#ececec" text-anchor="middle" font-weight="normal" >Hernia</text>
<text x="622.0" y="61.9" font-size="8.5" fill="#2f5a2c" text-anchor="middle" font-weight="normal" stroke="#2f5a2c" stroke-width="0.15">0</text>
<rect x="485.0" y="72.3" width="56.0" height="12.0" rx="6.0" fill="#a2a2a2" stroke="none" stroke-width="1" />
<text x="513.0" y="81.0" font-size="7.5" fill="#ececec" text-anchor="middle" font-weight="normal" >Infiltration</text>
<text x="479.4" y="81.4" font-size="8.5" fill="#2f5a2c" text-anchor="middle" font-weight="normal" stroke="#2f5a2c" stroke-width="0.15">0</text>
<rect x="554.7" y="72.3" width="55.8" height="12.0" rx="6.0" fill="#a2a2a2" stroke="none" stroke-width="1" />
<text x="582.6" y="81.0" font-size="7.5" fill="#ececec" text-anchor="middle" font-weight="normal" >Emphysema</text>
<text x="548.6" y="81.4" font-size="8.5" fill="#2f5a2c" text-anchor="middle" font-weight="normal" stroke="#2f5a2c" stroke-width="0.15">0</text>
<rect x="625.8" y="70.0" width="58.8" height="17.3" rx="8.649999999999999" fill="#a2a2a2" stroke="none" stroke-width="1" />
<text x="655.2" y="77.6" font-size="7.5" fill="#ececec" text-anchor="middle" font-weight="normal" >Pleural</text>
<text x="655.2" y="85.1" font-size="7.5" fill="#ececec" text-anchor="middle" font-weight="normal" >thickening</text>
<text x="622.0" y="81.4" font-size="8.5" fill="#2f5a2c" text-anchor="middle" font-weight="normal" stroke="#2f5a2c" stroke-width="0.15">0</text>
<rect x="485.0" y="90.4" width="56.0" height="12.0" rx="6.0" fill="#a2a2a2" stroke="none" stroke-width="1" />
<text x="513.0" y="99.1" font-size="7.5" fill="#ececec" text-anchor="middle" font-weight="normal" >Mass</text>
<text x="479.4" y="99.5" font-size="8.5" fill="#2f5a2c" text-anchor="middle" font-weight="normal" stroke="#2f5a2c" stroke-width="0.15">0</text>
<rect x="554.7" y="90.4" width="55.8" height="12.0" rx="6.0" fill="#a2a2a2" stroke="none" stroke-width="1" />
<text x="582.6" y="99.1" font-size="7.5" fill="#ececec" text-anchor="middle" font-weight="normal" >Fibrosis</text>
<text x="548.6" y="99.5" font-size="8.5" fill="#2f5a2c" text-anchor="middle" font-weight="normal" stroke="#2f5a2c" stroke-width="0.15">0</text>
<rect x="101.5" y="160.3" width="110.3" height="16.2" rx="0" fill="#efefef" stroke="none" stroke-width="1" />
<text x="156.7" y="171.3" font-size="9.7" fill="#222" text-anchor="middle" font-weight="normal" >Shenzhen (463 CXRs)</text>
<rect x="29.1" y="179.2" width="112.7" height="111.7" rx="0" fill="#fff" stroke="none" stroke-width="1" />
<use href="#cx_sz_b" x="29.7" y="179.8" width="111.5" height="110.5"/>
<rect x="22.4" y="185.8" width="112.7" height="111.7" rx="0" fill="#fff" stroke="none" stroke-width="1" />
<use href="#cx_sz_b" x="23.0" y="186.4" width="111.5" height="110.5"/>
<rect x="15.7" y="192.4" width="112.7" height="111.7" rx="0" fill="#fff" stroke="none" stroke-width="1" />
<use href="#cx_sz" x="16.3" y="193.0" width="111.5" height="110.5"/>
<line x1="141" y1="205" x2="164" y2="231" stroke="#6a6a6a" stroke-width="1.1" stroke-dasharray="1.3 1.5"/>
<line x1="141" y1="290" x2="164" y2="252.4" stroke="#6a6a6a" stroke-width="1.1" stroke-dasharray="1.3 1.5"/>
<rect x="164.0" y="231.0" width="70.7" height="21.4" rx="0" fill="#f1c8df" stroke="#b890a8" stroke-width="1" />
<rect x="178.8" y="235.0" width="53.0" height="13.0" rx="6.5" fill="#4a4a4a" stroke="none" stroke-width="1" />
<text x="205.3" y="244.2" font-size="7.5" fill="#f2f2f2" text-anchor="middle" font-weight="normal" >Tuberculosis</text>
<text x="172.0" y="244.4" font-size="8" fill="#3a2a35" text-anchor="middle" font-weight="normal" stroke="#3a2a35" stroke-width="0.15">1</text>
<rect x="102.0" y="321.5" width="135.0" height="14.2" rx="0" fill="#efefef" stroke="none" stroke-width="1" />
<text x="169.5" y="331.5" font-size="9.7" fill="#222" text-anchor="middle" font-weight="normal" >VinDr-CXR (15,000 CXRs)</text>
<rect x="44.9" y="341.4" width="112.2" height="113.2" rx="0" fill="#fff" stroke="none" stroke-width="1" />
<use href="#cx_vin_b2" x="45.5" y="342.0" width="111.0" height="112.0"/>
<rect x="35.0" y="349.3" width="112.2" height="113.2" rx="0" fill="#fff" stroke="none" stroke-width="1" />
<use href="#cx_vin_b" x="35.6" y="349.9" width="111.0" height="112.0"/>
<rect x="25.1" y="357.2" width="112.2" height="113.2" rx="0" fill="#fff" stroke="none" stroke-width="1" />
<use href="#cx_vin" x="25.7" y="357.8" width="111.0" height="112.0"/>
<line x1="157" y1="357.8" x2="197.6" y2="357.8" stroke="#6a6a6a" stroke-width="1.1" stroke-dasharray="1.3 1.5"/>
<line x1="137" y1="469.7" x2="197.6" y2="469.7" stroke="#6a6a6a" stroke-width="1.1" stroke-dasharray="1.3 1.5"/>
<rect x="197.6" y="357.8" width="71.8" height="111.9" rx="0" fill="#f0cfe8" stroke="#b898b0" stroke-width="1" />
<rect x="210.8" y="361.0" width="54.2" height="16.5" rx="8.25" fill="#a2a2a2" stroke="none" stroke-width="1" />
<text x="237.9" y="368.2" font-size="7.5" fill="#ececec" text-anchor="middle" font-weight="normal" >Pleural</text>
<text x="237.9" y="375.7" font-size="7.5" fill="#ececec" text-anchor="middle" font-weight="normal" >effusion</text>
<text x="203.0" y="372.3" font-size="8.5" fill="#4a2a40" text-anchor="middle" font-weight="normal" stroke="#4a2a40" stroke-width="0.15">0</text>
<rect x="210.8" y="380.0" width="54.2" height="14.0" rx="7.0" fill="#4a4a4a" stroke="none" stroke-width="1" />
<text x="237.9" y="389.7" font-size="7.5" fill="#f2f2f2" text-anchor="middle" font-weight="normal" >Lung tumour</text>
<text x="203.0" y="390.1" font-size="8.5" fill="#4a2a40" text-anchor="middle" font-weight="normal" stroke="#4a2a40" stroke-width="0.15">1</text>
<rect x="210.8" y="398.0" width="54.2" height="12.5" rx="6.25" fill="#a2a2a2" stroke="none" stroke-width="1" />
<text x="237.9" y="406.9" font-size="7.5" fill="#ececec" text-anchor="middle" font-weight="normal" >Pneumonia</text>
<text x="203.0" y="407.3" font-size="8.5" fill="#4a2a40" text-anchor="middle" font-weight="normal" stroke="#4a2a40" stroke-width="0.15">0</text>
<rect x="210.8" y="416.0" width="54.2" height="13.0" rx="6.5" fill="#4a4a4a" stroke="none" stroke-width="1" />
<text x="237.9" y="425.2" font-size="7.5" fill="#f2f2f2" text-anchor="middle" font-weight="normal" >Tuberculosis</text>
<text x="203.0" y="425.6" font-size="8.5" fill="#4a2a40" text-anchor="middle" font-weight="normal" stroke="#4a2a40" stroke-width="0.15">1</text>
<rect x="210.8" y="433.5" width="54.2" height="16.5" rx="8.25" fill="#a2a2a2" stroke="none" stroke-width="1" />
<text x="237.9" y="440.7" font-size="7.5" fill="#ececec" text-anchor="middle" font-weight="normal" >Other</text>
<text x="237.9" y="448.2" font-size="7.5" fill="#ececec" text-anchor="middle" font-weight="normal" >diseases</text>
<text x="203.0" y="444.8" font-size="8.5" fill="#4a2a40" text-anchor="middle" font-weight="normal" stroke="#4a2a40" stroke-width="0.15">0</text>
<rect x="210.8" y="453.0" width="54.2" height="12.0" rx="6.0" fill="#a2a2a2" stroke="none" stroke-width="1" />
<text x="237.9" y="461.7" font-size="7.5" fill="#ececec" text-anchor="middle" font-weight="normal" >No finding</text>
<text x="203.0" y="462.1" font-size="8.5" fill="#4a2a40" text-anchor="middle" font-weight="normal" stroke="#4a2a40" stroke-width="0.15">0</text>
<rect x="643.5" y="166.7" width="160.5" height="13.3" rx="0" fill="#efefef" stroke="none" stroke-width="1" />
<text x="723.8" y="176.2" font-size="9.7" fill="#222" text-anchor="middle" font-weight="normal" >RSNA Pneumonia (21,295 CXRs)</text>
<rect x="724.1" y="180.8" width="112.8" height="112.7" rx="0" fill="#fff" stroke="none" stroke-width="1" />
<use href="#cx_rsna_b2" x="724.7" y="181.4" width="111.6" height="111.5"/>
<rect x="714.1" y="189.6" width="112.8" height="112.7" rx="0" fill="#fff" stroke="none" stroke-width="1" />
<use href="#cx_rsna_b" x="714.7" y="190.2" width="111.6" height="111.5"/>
<rect x="704.1" y="198.4" width="112.8" height="112.7" rx="0" fill="#fff" stroke="none" stroke-width="1" />
<use href="#cx_rsna" x="704.7" y="199.0" width="111.6" height="111.5"/>
<line x1="672" y1="215" x2="704.7" y2="199" stroke="#6a6a6a" stroke-width="1.1" stroke-dasharray="1.3 1.5"/>
<line x1="672" y1="273.8" x2="704.7" y2="310.5" stroke="#6a6a6a" stroke-width="1.1" stroke-dasharray="1.3 1.5"/>
<rect x="600.7" y="199.8" width="71.3" height="74.0" rx="0" fill="#fbe5da" stroke="#b9a69c" stroke-width="1" />
<rect x="612.3" y="209.0" width="56.7" height="12.0" rx="6.0" fill="#a2a2a2" stroke="none" stroke-width="1" />
<text x="640.6" y="217.7" font-size="7.5" fill="#ececec" text-anchor="middle" font-weight="normal" >Normal</text>
<text x="606.8" y="218.1" font-size="8.5" fill="#333333" text-anchor="middle" font-weight="normal" stroke="#333333" stroke-width="0.15">0</text>
<rect x="612.3" y="228.0" width="56.7" height="25.0" rx="10" fill="#a2a2a2" stroke="none" stroke-width="1" />
<text x="640.6" y="235.7" font-size="7.5" fill="#ececec" text-anchor="middle" font-weight="normal" >No lung</text>
<text x="640.6" y="243.2" font-size="7.5" fill="#ececec" text-anchor="middle" font-weight="normal" >opacity/</text>
<text x="640.6" y="250.7" font-size="7.5" fill="#ececec" text-anchor="middle" font-weight="normal" >not normal</text>
<text x="606.8" y="243.6" font-size="8.5" fill="#333333" text-anchor="middle" font-weight="normal" stroke="#333333" stroke-width="0.15">0</text>
<rect x="612.3" y="258.0" width="56.7" height="12.7" rx="6.349999999999994" fill="#4a4a4a" stroke="none" stroke-width="1" />
<text x="640.6" y="267.1" font-size="7.5" fill="#f2f2f2" text-anchor="middle" font-weight="normal" >Pneumonia</text>
<text x="606.8" y="267.4" font-size="8.5" fill="#333333" text-anchor="middle" font-weight="normal" stroke="#333333" stroke-width="0.15">1</text>
<rect x="663.7" y="327.8" width="148.3" height="12.7" rx="0" fill="#efefef" stroke="none" stroke-width="1" />
<text x="737.9" y="337.0" font-size="9.7" fill="#222" text-anchor="middle" font-weight="normal" >CheXpert (223,414 CXRs)</text>
<rect x="738.3" y="350.8" width="112.4" height="111.7" rx="0" fill="#fff" stroke="none" stroke-width="1" />
<use href="#cx_chx_b2" x="738.9" y="351.4" width="111.2" height="110.5"/>
<rect x="727.8" y="359.1" width="112.4" height="111.7" rx="0" fill="#fff" stroke="none" stroke-width="1" />
<use href="#cx_chx_b" x="728.4" y="359.7" width="111.2" height="110.5"/>
<rect x="717.3" y="367.4" width="112.4" height="111.7" rx="0" fill="#fff" stroke="none" stroke-width="1" />
<use href="#cx_chx" x="717.9" y="368.0" width="111.2" height="110.5"/>
<line x1="707.8" y1="350" x2="717.7" y2="367.6" stroke="#6a6a6a" stroke-width="1.1" stroke-dasharray="1.3 1.5"/>
<line x1="707.8" y1="477.7" x2="717.7" y2="478.8" stroke="#6a6a6a" stroke-width="1.1" stroke-dasharray="1.3 1.5"/>
<rect x="564.1" y="349.7" width="143.7" height="128.0" rx="0" fill="#dde9f5" stroke="#a8b2bc" stroke-width="1" />
<rect x="573.6" y="354.0" width="56.0" height="12.6" rx="6.300000000000011" fill="#a2a2a2" stroke="none" stroke-width="1" />
<text x="601.6" y="363.0" font-size="7.5" fill="#ececec" text-anchor="middle" font-weight="normal" >No finding</text>
<text x="567.6" y="363.4" font-size="8.5" fill="#3a4756" text-anchor="middle" font-weight="normal" stroke="#3a4756" stroke-width="0.15">0</text>
<rect x="638.0" y="354.0" width="66.0" height="12.6" rx="6.300000000000011" fill="#a2a2a2" stroke="none" stroke-width="1" />
<text x="671.0" y="363.0" font-size="7.5" fill="#ececec" text-anchor="middle" font-weight="normal" >Pneumonia</text>
<text x="634.0" y="363.4" font-size="8.5" fill="#3a4756" text-anchor="middle" font-weight="normal" stroke="#3a4756" stroke-width="0.15">0</text>
<rect x="573.6" y="372.7" width="56.0" height="12.6" rx="6.300000000000011" fill="#4a4a4a" stroke="none" stroke-width="1" />
<text x="601.6" y="381.7" font-size="7.5" fill="#f2f2f2" text-anchor="middle" font-weight="normal" >Atelectasis</text>
<text x="567.6" y="382.1" font-size="8.5" fill="#3a4756" text-anchor="middle" font-weight="normal" stroke="#3a4756" stroke-width="0.15">1</text>
<rect x="638.0" y="372.7" width="66.0" height="12.6" rx="6.300000000000011" fill="#a2a2a2" stroke="none" stroke-width="1" />
<text x="671.0" y="381.7" font-size="7.5" fill="#ececec" text-anchor="middle" font-weight="normal" >Fracture</text>
<text x="634.0" y="382.1" font-size="8.5" fill="#3a4756" text-anchor="middle" font-weight="normal" stroke="#3a4756" stroke-width="0.15">0</text>
<rect x="573.6" y="390.0" width="56.0" height="12.6" rx="6.300000000000011" fill="#a2a2a2" stroke="none" stroke-width="1" />
<text x="601.6" y="399.0" font-size="7.5" fill="#ececec" text-anchor="middle" font-weight="normal" >Cardiomegaly</text>
<text x="567.6" y="399.4" font-size="8.5" fill="#3a4756" text-anchor="middle" font-weight="normal" stroke="#3a4756" stroke-width="0.15">0</text>
<rect x="638.0" y="390.0" width="66.0" height="12.6" rx="6.300000000000011" fill="#a2a2a2" stroke="none" stroke-width="1" />
<text x="671.0" y="399.0" font-size="7.5" fill="#ececec" text-anchor="middle" font-weight="normal" >Pneumothorax</text>
<text x="634.0" y="399.4" font-size="8.5" fill="#3a4756" text-anchor="middle" font-weight="normal" stroke="#3a4756" stroke-width="0.15">0</text>
<rect x="573.6" y="408.3" width="56.0" height="12.6" rx="6.300000000000011" fill="#4a4a4a" stroke="none" stroke-width="1" />
<text x="601.6" y="417.3" font-size="7.5" fill="#f2f2f2" text-anchor="middle" font-weight="normal" >Lung opacity</text>
<text x="567.6" y="417.7" font-size="8.5" fill="#3a4756" text-anchor="middle" font-weight="normal" stroke="#3a4756" stroke-width="0.15">1</text>
<rect x="638.0" y="408.3" width="66.0" height="12.6" rx="6.300000000000011" fill="#a2a2a2" stroke="none" stroke-width="1" />
<text x="671.0" y="417.3" font-size="7.5" fill="#ececec" text-anchor="middle" font-weight="normal" >Pleural effusion</text>
<text x="634.0" y="417.7" font-size="8.5" fill="#3a4756" text-anchor="middle" font-weight="normal" stroke="#3a4756" stroke-width="0.15">0</text>
<rect x="573.6" y="426.4" width="56.0" height="12.6" rx="6.300000000000011" fill="#a2a2a2" stroke="none" stroke-width="1" />
<text x="601.6" y="435.4" font-size="7.5" fill="#ececec" text-anchor="middle" font-weight="normal" >Lung Lesion</text>
<text x="567.6" y="435.8" font-size="8.5" fill="#3a4756" text-anchor="middle" font-weight="normal" stroke="#3a4756" stroke-width="0.15">0</text>
<rect x="638.0" y="426.4" width="66.0" height="12.6" rx="6.300000000000011" fill="#a2a2a2" stroke="none" stroke-width="1" />
<text x="671.0" y="435.4" font-size="7.5" fill="#ececec" text-anchor="middle" font-weight="normal" >Pleural other</text>
<text x="634.0" y="435.8" font-size="8.5" fill="#3a4756" text-anchor="middle" font-weight="normal" stroke="#3a4756" stroke-width="0.15">0</text>
<rect x="573.6" y="444.9" width="56.0" height="12.6" rx="6.300000000000011" fill="#a2a2a2" stroke="none" stroke-width="1" />
<text x="601.6" y="453.9" font-size="7.5" fill="#ececec" text-anchor="middle" font-weight="normal" >Edema</text>
<text x="567.6" y="454.3" font-size="8.5" fill="#3a4756" text-anchor="middle" font-weight="normal" stroke="#3a4756" stroke-width="0.15">0</text>
<rect x="638.0" y="443.8" width="66.0" height="16.4" rx="8.199999999999989" fill="#4a4a4a" stroke="none" stroke-width="1" />
<text x="671.0" y="450.9" font-size="7.5" fill="#f2f2f2" text-anchor="middle" font-weight="normal" >Enlarged</text>
<text x="671.0" y="458.4" font-size="7.5" fill="#f2f2f2" text-anchor="middle" font-weight="normal" >cardiomediastinum</text>
<text x="634.0" y="454.3" font-size="8.5" fill="#3a4756" text-anchor="middle" font-weight="normal" stroke="#3a4756" stroke-width="0.15">1</text>
<rect x="573.6" y="462.7" width="56.0" height="12.6" rx="6.300000000000011" fill="#a2a2a2" stroke="none" stroke-width="1" />
<text x="601.6" y="471.7" font-size="7.5" fill="#ececec" text-anchor="middle" font-weight="normal" >Consolidation</text>
<text x="567.6" y="472.1" font-size="8.5" fill="#3a4756" text-anchor="middle" font-weight="normal" stroke="#3a4756" stroke-width="0.15">0</text>
<rect x="638.0" y="462.7" width="66.0" height="12.6" rx="6.300000000000011" fill="#4a4a4a" stroke="none" stroke-width="1" />
<text x="671.0" y="471.7" font-size="7.5" fill="#f2f2f2" text-anchor="middle" font-weight="normal" >Support devices</text>
<text x="634.0" y="472.1" font-size="8.5" fill="#3a4756" text-anchor="middle" font-weight="normal" stroke="#3a4756" stroke-width="0.15">1</text>
<path d="M364.9 127.1 A153.2 153.2 0 0 1 469.5 124.4" fill="none" stroke="#f7ddd0" stroke-width="2.8"/>
<path d="M475.7 126.7 L467.2 118.1 L468.2 123.8 L463.6 127.4 Z" fill="#f7ddd0"/>
<path d="M518.2 151.5 A153.2 153.2 0 0 1 569.6 233.2" fill="none" stroke="#f2bb9c" stroke-width="2.8"/>
<path d="M571.0 239.7 L573.8 227.9 L569.5 231.8 L564.0 229.9 Z" fill="#f2bb9c"/>
<path d="M571.5 297.1 A153.2 153.2 0 0 1 525.8 381.3" fill="none" stroke="#efa377" stroke-width="2.8"/>
<path d="M520.9 385.7 L532.5 382.3 L527.0 380.4 L526.0 374.7 Z" fill="#efa377"/>
<path d="M478.9 411.4 A153.2 153.2 0 0 1 373.1 415.3" fill="none" stroke="#ec8c4a" stroke-width="3"/>
<path d="M366.9 413.1 L375.4 421.7 L374.4 415.9 L379.0 412.3 Z" fill="#ec8c4a"/>
<path d="M325.0 389.3 A153.2 153.2 0 0 1 269.8 295.4" fill="none" stroke="#e98138" stroke-width="3"/>
<path d="M268.8 288.9 L265.2 300.4 L269.8 296.8 L275.1 299.2 Z" fill="#e98138"/>
<path d="M268.7 251.0 A153.2 153.2 0 0 1 320.0 154.4" fill="none" stroke="#e67a2e" stroke-width="3"/>
<path d="M325.0 150.1 L313.3 153.1 L318.8 155.1 L319.6 160.9 Z" fill="#e67a2e"/>
<rect x="356.9" y="162.9" width="126.2" height="44.5" rx="5" fill="#f2a47c" stroke="none" stroke-width="1" />
<text x="417.7" y="182.2" font-size="10" fill="#fbe6da" text-anchor="middle" font-weight="normal" >Ark</text>
<text x="427.8" y="176.2" font-size="6" fill="#fbe6da" text-anchor="middle" font-weight="normal" >+</text>
<text x="420.2" y="194.5" font-size="10" fill="#fbe6da" text-anchor="middle" font-weight="normal" >pretraining</text>
<text x="419.5" y="224.6" font-size="10" fill="#2a2a2a" text-anchor="middle" font-weight="normal" >Accruing and reusing knowledge</text>
<text x="419.5" y="236.6" font-size="10" fill="#2a2a2a" text-anchor="middle" font-weight="normal" >from heterogeneous expert labels</text>
<line x1="419.5" y1="250" x2="419.5" y2="279" stroke="#aaa" stroke-width="1.3"/>
<path d="M415.5 276 L419.5 284 L423.5 276 L419.5 278.5 Z" fill="#aaa"/>
<rect x="319.4" y="286.8" width="207.1" height="79.5" rx="0" fill="none" stroke="#eea0a0" stroke-width="0.8" stroke-dasharray="1.4 1.6"/>
<path d="M331 298.4 L394.9 313 L394.9 343 L331 356.5 Z" fill="#b2e49c" stroke="#6a8f60" stroke-width="0.8"/>
<text x="363.0" y="330.5" font-size="10" fill="#1a1a1a" text-anchor="middle" font-weight="normal" >Encoder</text>
<rect x="408.4" y="291.4" width="26.8" height="71.2" rx="5" fill="#b2e49c" stroke="#6a8f60" stroke-width="0.8" />
<text x="0.0" y="0.0" font-size="10" fill="#1a1a1a" text-anchor="middle" font-weight="normal" transform="translate(418.5 327) rotate(90)">Projector</text>
<rect x="451.6" y="301.7" width="63.8" height="51.5" rx="0" fill="#b2e49c" stroke="#6a8f60" stroke-width="0.8" />
<text x="483.5" y="326.2" font-size="10" fill="#1a1a1a" text-anchor="middle" font-weight="normal" >Multi-task</text>
<text x="483.5" y="338.2" font-size="10" fill="#1a1a1a" text-anchor="middle" font-weight="normal" >heads</text>
<text x="-0.5" y="509.5" font-size="13" fill="#000" text-anchor="start" font-weight="bold" >b</text>
<text x="117.0" y="514.5" font-size="10" fill="#222" text-anchor="middle" font-weight="normal" >Fine-tuning</text>
<rect x="31.6" y="569.4" width="60.7" height="60.9" rx="0" fill="#fff" stroke="none" stroke-width="1" />
<use href="#cx_14_b" x="32.2" y="570.0" width="59.5" height="59.7"/>
<rect x="25.9" y="575.8" width="60.7" height="60.9" rx="0" fill="#fff" stroke="none" stroke-width="1" />
<use href="#cx_14_b" x="26.5" y="576.4" width="59.5" height="59.7"/>
<rect x="20.2" y="582.2" width="60.7" height="60.9" rx="0" fill="#fff" stroke="none" stroke-width="1" />
<use href="#cx_14" x="20.8" y="582.8" width="59.5" height="59.7"/>
<rect x="98.3" y="547.8" width="129.1" height="113.2" rx="0" fill="none" stroke="#eea0a0" stroke-width="0.8" stroke-dasharray="1.4 1.6"/>
<path d="M122 565.3 L219 587.4 L219 633 L122 654.4 Z" fill="#b2e49c" stroke="#6a8f60" stroke-width="0.8"/>
<text x="173.0" y="613.5" font-size="10" fill="#1a1a1a" text-anchor="middle" font-weight="normal" >Encoder</text>
<line x1="80" y1="610" x2="118" y2="610" stroke="#3f7396" stroke-width="1.2"/>
<path d="M121 610 L115 607.4 L116.5 610 L115 612.6 Z" fill="#3f7396"/>
<line x1="219" y1="610" x2="236" y2="610" stroke="#3f7396" stroke-width="1.2"/>
<path d="M239 610 L233 607.4 L234.5 610 L233 612.6 Z" fill="#3f7396"/>
<rect x="101.4" y="559.1" width="15.2" height="11.5" rx="1.6" fill="#fff" stroke="#555" stroke-width="1" />
<path d="M113.1 559.1 L113.1 555.5 A5.2 5.2 0 0 1 123.5 555.5 L123.5 558.5" fill="none" stroke="#5a5a5a" stroke-width="1.7"/>
<circle cx="108.9" cy="563.2" r="1.7" fill="none" stroke="#555" stroke-width="1"/><line x1="108.9" y1="564.9" x2="108.9" y2="567.8" stroke="#555" stroke-width="1.1"/>
<path d="M251.2 512.2 C259.2 512.2 262.2 524.2 262.2 552.2 L262.2 667.8 C262.2 695.8 259.2 707.8 251.2 707.8 C243.2 707.8 240.2 695.8 240.2 667.8 L240.2 552.2 C240.2 524.2 243.2 512.2 251.2 512.2 Z" fill="#a2a2a2" stroke="#8a8a8a" stroke-width="0.6"/>
<line x1="251.2" y1="733.8" x2="251.2" y2="716" stroke="#bbb" stroke-width="1.2"/>
<path d="M247.7 718 L251.2 711 L254.7 718 L251.2 716 Z" fill="#bbb"/>
<text x="251.2" y="747.5" font-size="10" fill="#222" text-anchor="middle" font-weight="normal" >Linear classifier</text>
<text x="334.0" y="515.0" font-size="10" fill="#222" text-anchor="middle" font-weight="normal" >Target task</text>
<line x1="262.5" y1="610" x2="280" y2="610" stroke="#3f7396" stroke-width="1.2"/>
<path d="M283 610 L277 607.4 L278.5 610 L277 612.6 Z" fill="#3f7396"/>
<rect x="283.4" y="524.0" width="14.4" height="137.7" rx="0" fill="#fbe6db" stroke="#b8a298" stroke-width="0.8" />
<text x="290.6" y="541.2" font-size="11" fill="#1a1a1a" text-anchor="middle" font-weight="normal" stroke="#1a1a1a" stroke-width="0.3">0</text>
<text x="290.6" y="569.0" font-size="11" fill="#1a1a1a" text-anchor="middle" font-weight="normal" stroke="#1a1a1a" stroke-width="0.3">1</text>
<text x="290.6" y="597.0" font-size="11" fill="#1a1a1a" text-anchor="middle" font-weight="normal" stroke="#1a1a1a" stroke-width="0.3">0</text>
<circle cx="290.6" cy="621.0" r="0.55" fill="#333"/>
<circle cx="290.6" cy="624.0" r="0.55" fill="#333"/>
<circle cx="290.6" cy="627.0" r="0.55" fill="#333"/>
<text x="290.6" y="653.0" font-size="11" fill="#1a1a1a" text-anchor="middle" font-weight="normal" stroke="#1a1a1a" stroke-width="0.3">0</text>
<rect x="294.2" y="541.0" width="13.6" height="140.3" rx="0" fill="#fbe6db" stroke="#b8a298" stroke-width="0.8" />
<text x="301.0" y="557.7" font-size="11" fill="#1a1a1a" text-anchor="middle" font-weight="normal" stroke="#1a1a1a" stroke-width="0.3">0</text>
<text x="301.0" y="586.0" font-size="11" fill="#1a1a1a" text-anchor="middle" font-weight="normal" stroke="#1a1a1a" stroke-width="0.3">0</text>
<text x="301.0" y="614.0" font-size="11" fill="#1a1a1a" text-anchor="middle" font-weight="normal" stroke="#1a1a1a" stroke-width="0.3">0</text>
<circle cx="301.0" cy="637.0" r="0.55" fill="#333"/>
<circle cx="301.0" cy="640.0" r="0.55" fill="#333"/>
<circle cx="301.0" cy="643.0" r="0.55" fill="#333"/>
<text x="301.0" y="669.7" font-size="11" fill="#1a1a1a" text-anchor="middle" font-weight="normal" stroke="#1a1a1a" stroke-width="0.3">0</text>
<rect x="303.4" y="557.6" width="14.4" height="138.2" rx="0" fill="#fbe6db" stroke="#b8a298" stroke-width="0.8" />
<text x="310.6" y="574.3" font-size="11" fill="#1a1a1a" text-anchor="middle" font-weight="normal" stroke="#1a1a1a" stroke-width="0.3">0</text>
<text x="310.6" y="602.5" font-size="11" fill="#1a1a1a" text-anchor="middle" font-weight="normal" stroke="#1a1a1a" stroke-width="0.3">1</text>
<text x="310.6" y="630.6" font-size="11" fill="#1a1a1a" text-anchor="middle" font-weight="normal" stroke="#1a1a1a" stroke-width="0.3">0</text>
<circle cx="310.6" cy="652.0" r="0.55" fill="#333"/>
<circle cx="310.6" cy="655.0" r="0.55" fill="#333"/>
<circle cx="310.6" cy="658.0" r="0.55" fill="#333"/>
<text x="310.6" y="687.0" font-size="11" fill="#1a1a1a" text-anchor="middle" font-weight="normal" stroke="#1a1a1a" stroke-width="0.3">0</text>
<rect x="323.5" y="562.8" width="63.5" height="17.6" rx="8.799999999999955" fill="#a2a2a2" stroke="none" stroke-width="1" />
<text x="355.2" y="574.5" font-size="8" fill="#ececec" text-anchor="middle" font-weight="normal" >Atelectasis</text>
<rect x="323.5" y="590.9" width="63.5" height="17.6" rx="8.799999999999955" fill="#4a4a4a" stroke="none" stroke-width="1" />
<text x="355.2" y="602.6" font-size="8" fill="#f2f2f2" text-anchor="middle" font-weight="normal" >Cardiomegaly</text>
<rect x="323.5" y="618.5" width="63.5" height="17.6" rx="8.799999999999955" fill="#a2a2a2" stroke="none" stroke-width="1" />
<text x="355.2" y="630.2" font-size="8" fill="#ececec" text-anchor="middle" font-weight="normal" >Effusion</text>
<rect x="323.5" y="674.2" width="63.5" height="17.6" rx="8.799999999999955" fill="#a2a2a2" stroke="none" stroke-width="1" />
<text x="355.2" y="685.9" font-size="8" fill="#ececec" text-anchor="middle" font-weight="normal" >Hernia</text>
<circle cx="355.2" cy="653.4" r="0.55" fill="#333"/>
<circle cx="355.2" cy="656.4" r="0.55" fill="#333"/>
<circle cx="355.2" cy="659.4" r="0.55" fill="#333"/>
<text x="488.0" y="514.5" font-size="10" fill="#222" text-anchor="middle" font-weight="normal" >Linear-probing</text>
<rect x="430.4" y="543.7" width="208.6" height="133.8" rx="0" fill="none" stroke="#f0bcbc" stroke-width="0.8" stroke-dasharray="1.4 1.6"/>
<path d="M458.5 565.5 L555 587.5 L555 632.9 L458.5 654.7 Z" fill="#d8f0cc" stroke="#b0cca4" stroke-width="0.8"/>
<text x="505.0" y="613.0" font-size="10" fill="#8a9a88" text-anchor="middle" font-weight="normal" >Encoder</text>
<rect x="584.7" y="547.7" width="40.3" height="124.5" rx="7" fill="#d8f0cc" stroke="#b0cca4" stroke-width="0.8" />
<text x="0.0" y="0.0" font-size="10" fill="#8a9a88" text-anchor="middle" font-weight="normal" transform="translate(601.4 610.6) rotate(90)">Projector</text>
<line x1="555" y1="610" x2="581" y2="610" stroke="#9ab0c0" stroke-width="1"/>
<path d="M584 610 L578 607.4 L579.5 610 L578 612.6 Z" fill="#9ab0c0"/>
<line x1="625" y1="610" x2="652" y2="610" stroke="#3f7396" stroke-width="1.2"/>
<path d="M655 610 L649 607.4 L650.5 610 L649 612.6 Z" fill="#3f7396"/>
<line x1="670" y1="610" x2="687.5" y2="610" stroke="#3f7396" stroke-width="1.2"/>
<path d="M690.5 610 L684.5 607.4 L686.0 610 L684.5 612.6 Z" fill="#3f7396"/>
<path d="M702 513.2 C710.0 513.2 713.0 525.2 713.0 553.2 L713.0 668.0 C713.0 696.0 710.0 708.0 702 708.0 C694.0 708.0 691.0 696.0 691.0 668.0 L691.0 553.2 C691.0 525.2 694.0 513.2 702 513.2 Z" fill="#a2a2a2" stroke="#8a8a8a" stroke-width="0.6"/>
<line x1="702" y1="733.8" x2="702" y2="716" stroke="#bbb" stroke-width="1.2"/>
<path d="M698.5 718 L702 711 L705.5 718 L702 716 Z" fill="#bbb"/>
<text x="702.0" y="747.5" font-size="10" fill="#222" text-anchor="middle" font-weight="normal" >Linear classifier</text>
<line x1="713" y1="610" x2="734" y2="610" stroke="#3f7396" stroke-width="1.2"/>
<path d="M737 610 L731 607.4 L732.5 610 L731 612.6 Z" fill="#3f7396"/>
<path d="M436.9 557.6 L436.9 554.6 Q436.9 549.1 441.9 549.1 Q446.9 549.1 446.9 554.6 L446.9 557.6" fill="none" stroke="#999" stroke-width="1.3"/>
<rect x="433.6" y="557.6" width="16.6" height="10.4" rx="1.5" fill="#fff" stroke="#999" stroke-width="0.9" />
<circle cx="441.9" cy="561.2" r="1.5" fill="none" stroke="#999" stroke-width="0.7"/><line x1="441.9" y1="562.7" x2="441.9" y2="565.4" stroke="#999" stroke-width="0.7"/>
<rect x="663.3" y="554.6" width="6.6" height="125.5" rx="0" fill="#ddd" stroke="#aaa" stroke-width="0.4" />
<rect x="663.3" y="554.6" width="6.6" height="4.7" rx="0" fill="#f3f0a8" stroke="none" stroke-width="1" />
<rect x="663.3" y="559.1" width="6.6" height="4.7" rx="0" fill="#2ba3d2" stroke="none" stroke-width="1" />
<rect x="663.3" y="563.6" width="6.6" height="4.7" rx="0" fill="#d3cdea" stroke="none" stroke-width="1" />
<rect x="663.3" y="568.0" width="6.6" height="4.7" rx="0" fill="#b9d3ea" stroke="none" stroke-width="1" />
<rect x="663.3" y="572.5" width="6.6" height="4.7" rx="0" fill="#b9d3ea" stroke="none" stroke-width="1" />
<rect x="663.3" y="577.0" width="6.6" height="4.7" rx="0" fill="#1d4c73" stroke="none" stroke-width="1" />
<rect x="663.3" y="581.5" width="6.6" height="4.7" rx="0" fill="#b9d3ea" stroke="none" stroke-width="1" />
<rect x="663.3" y="586.0" width="6.6" height="4.7" rx="0" fill="#d3cdea" stroke="none" stroke-width="1" />
<rect x="663.3" y="590.5" width="6.6" height="4.7" rx="0" fill="#b9d3ea" stroke="none" stroke-width="1" />
<rect x="663.3" y="594.9" width="6.6" height="4.7" rx="0" fill="#c4ccdc" stroke="none" stroke-width="1" />
<rect x="663.3" y="599.4" width="6.6" height="4.7" rx="0" fill="#a6dca0" stroke="none" stroke-width="1" />
<rect x="663.3" y="603.9" width="6.6" height="4.7" rx="0" fill="#b9d3ea" stroke="none" stroke-width="1" />
<rect x="663.3" y="608.4" width="6.6" height="4.7" rx="0" fill="#b9d3ea" stroke="none" stroke-width="1" />
<rect x="663.3" y="612.9" width="6.6" height="4.7" rx="0" fill="#c6e6f2" stroke="none" stroke-width="1" />
<rect x="663.3" y="617.4" width="6.6" height="4.7" rx="0" fill="#c6e6f2" stroke="none" stroke-width="1" />
<rect x="663.3" y="621.8" width="6.6" height="4.7" rx="0" fill="#b9d3ea" stroke="none" stroke-width="1" />
<rect x="663.3" y="626.3" width="6.6" height="4.7" rx="0" fill="#a6dca0" stroke="none" stroke-width="1" />
<rect x="663.3" y="630.8" width="6.6" height="4.7" rx="0" fill="#b9d3ea" stroke="none" stroke-width="1" />
<rect x="663.3" y="635.3" width="6.6" height="4.7" rx="0" fill="#1d4c73" stroke="none" stroke-width="1" />
<rect x="663.3" y="639.8" width="6.6" height="4.7" rx="0" fill="#c6e6f2" stroke="none" stroke-width="1" />
<rect x="663.3" y="644.2" width="6.6" height="4.7" rx="0" fill="#b9d3ea" stroke="none" stroke-width="1" />
<rect x="663.3" y="648.7" width="6.6" height="4.7" rx="0" fill="#b9d3ea" stroke="none" stroke-width="1" />
<rect x="663.3" y="653.2" width="6.6" height="4.7" rx="0" fill="#a6dca0" stroke="none" stroke-width="1" />
<rect x="663.3" y="657.7" width="6.6" height="4.7" rx="0" fill="#b9d3ea" stroke="none" stroke-width="1" />
<rect x="663.3" y="662.2" width="6.6" height="4.7" rx="0" fill="#d3cdea" stroke="none" stroke-width="1" />
<rect x="663.3" y="666.7" width="6.6" height="4.7" rx="0" fill="#b9d3ea" stroke="none" stroke-width="1" />
<rect x="663.3" y="671.1" width="6.6" height="4.7" rx="0" fill="#a6dca0" stroke="none" stroke-width="1" />
<rect x="663.3" y="675.6" width="6.6" height="4.7" rx="0" fill="#b9d3ea" stroke="none" stroke-width="1" />
<rect x="663.3" y="554.6" width="6.6" height="125.5" rx="0" fill="none" stroke="#b0b0b0" stroke-width="0.4" />
<rect x="659.0" y="551.0" width="6.6" height="125.5" rx="0" fill="#ddd" stroke="#aaa" stroke-width="0.4" />
<rect x="659.0" y="551.0" width="6.6" height="4.7" rx="0" fill="#1d4c73" stroke="none" stroke-width="1" />
<rect x="659.0" y="555.5" width="6.6" height="4.7" rx="0" fill="#2ba3d2" stroke="none" stroke-width="1" />
<rect x="659.0" y="560.0" width="6.6" height="4.7" rx="0" fill="#f2cddb" stroke="none" stroke-width="1" />
<rect x="659.0" y="564.4" width="6.6" height="4.7" rx="0" fill="#c6e6f2" stroke="none" stroke-width="1" />
<rect x="659.0" y="568.9" width="6.6" height="4.7" rx="0" fill="#2ba3d2" stroke="none" stroke-width="1" />
<rect x="659.0" y="573.4" width="6.6" height="4.7" rx="0" fill="#1d4c73" stroke="none" stroke-width="1" />
<rect x="659.0" y="577.9" width="6.6" height="4.7" rx="0" fill="#b9d3ea" stroke="none" stroke-width="1" />
<rect x="659.0" y="582.4" width="6.6" height="4.7" rx="0" fill="#f2cddb" stroke="none" stroke-width="1" />
<rect x="659.0" y="586.9" width="6.6" height="4.7" rx="0" fill="#1d4c73" stroke="none" stroke-width="1" />
<rect x="659.0" y="591.3" width="6.6" height="4.7" rx="0" fill="#2ba3d2" stroke="none" stroke-width="1" />
<rect x="659.0" y="595.8" width="6.6" height="4.7" rx="0" fill="#b9d3ea" stroke="none" stroke-width="1" />
<rect x="659.0" y="600.3" width="6.6" height="4.7" rx="0" fill="#a6dca0" stroke="none" stroke-width="1" />
<rect x="659.0" y="604.8" width="6.6" height="4.7" rx="0" fill="#d3cdea" stroke="none" stroke-width="1" />
<rect x="659.0" y="609.3" width="6.6" height="4.7" rx="0" fill="#b9d3ea" stroke="none" stroke-width="1" />
<rect x="659.0" y="613.8" width="6.6" height="4.7" rx="0" fill="#1d4c73" stroke="none" stroke-width="1" />
<rect x="659.0" y="618.2" width="6.6" height="4.7" rx="0" fill="#b9d3ea" stroke="none" stroke-width="1" />
<rect x="659.0" y="622.7" width="6.6" height="4.7" rx="0" fill="#b9d3ea" stroke="none" stroke-width="1" />
<rect x="659.0" y="627.2" width="6.6" height="4.7" rx="0" fill="#a6dca0" stroke="none" stroke-width="1" />
<rect x="659.0" y="631.7" width="6.6" height="4.7" rx="0" fill="#c4ccdc" stroke="none" stroke-width="1" />
<rect x="659.0" y="636.2" width="6.6" height="4.7" rx="0" fill="#1d4c73" stroke="none" stroke-width="1" />
<rect x="659.0" y="640.6" width="6.6" height="4.7" rx="0" fill="#c6e6f2" stroke="none" stroke-width="1" />
<rect x="659.0" y="645.1" width="6.6" height="4.7" rx="0" fill="#f3f0a8" stroke="none" stroke-width="1" />
<rect x="659.0" y="649.6" width="6.6" height="4.7" rx="0" fill="#c6e6f2" stroke="none" stroke-width="1" />
<rect x="659.0" y="654.1" width="6.6" height="4.7" rx="0" fill="#c6e6f2" stroke="none" stroke-width="1" />
<rect x="659.0" y="658.6" width="6.6" height="4.7" rx="0" fill="#d3cdea" stroke="none" stroke-width="1" />
<rect x="659.0" y="663.1" width="6.6" height="4.7" rx="0" fill="#f2cddb" stroke="none" stroke-width="1" />
<rect x="659.0" y="667.5" width="6.6" height="4.7" rx="0" fill="#a6dca0" stroke="none" stroke-width="1" />
<rect x="659.0" y="672.0" width="6.6" height="4.7" rx="0" fill="#2ba3d2" stroke="none" stroke-width="1" />
<rect x="659.0" y="551.0" width="6.6" height="125.5" rx="0" fill="none" stroke="#b0b0b0" stroke-width="0.4" />
<rect x="655.3" y="547.3" width="6.6" height="125.5" rx="0" fill="#ddd" stroke="#aaa" stroke-width="0.4" />
<rect x="655.3" y="547.3" width="6.6" height="4.7" rx="0" fill="#a6dca0" stroke="none" stroke-width="1" />
<rect x="655.3" y="551.8" width="6.6" height="4.7" rx="0" fill="#b9d3ea" stroke="none" stroke-width="1" />
<rect x="655.3" y="556.3" width="6.6" height="4.7" rx="0" fill="#f2cddb" stroke="none" stroke-width="1" />
<rect x="655.3" y="560.7" width="6.6" height="4.7" rx="0" fill="#c4ccdc" stroke="none" stroke-width="1" />
<rect x="655.3" y="565.2" width="6.6" height="4.7" rx="0" fill="#c4ccdc" stroke="none" stroke-width="1" />
<rect x="655.3" y="569.7" width="6.6" height="4.7" rx="0" fill="#f3f0a8" stroke="none" stroke-width="1" />
<rect x="655.3" y="574.2" width="6.6" height="4.7" rx="0" fill="#c6e6f2" stroke="none" stroke-width="1" />
<rect x="655.3" y="578.7" width="6.6" height="4.7" rx="0" fill="#f2cddb" stroke="none" stroke-width="1" />
<rect x="655.3" y="583.2" width="6.6" height="4.7" rx="0" fill="#b9d3ea" stroke="none" stroke-width="1" />
<rect x="655.3" y="587.6" width="6.6" height="4.7" rx="0" fill="#b9d3ea" stroke="none" stroke-width="1" />
<rect x="655.3" y="592.1" width="6.6" height="4.7" rx="0" fill="#c4ccdc" stroke="none" stroke-width="1" />
<rect x="655.3" y="596.6" width="6.6" height="4.7" rx="0" fill="#c6e6f2" stroke="none" stroke-width="1" />
<rect x="655.3" y="601.1" width="6.6" height="4.7" rx="0" fill="#2ba3d2" stroke="none" stroke-width="1" />
<rect x="655.3" y="605.6" width="6.6" height="4.7" rx="0" fill="#f3f0a8" stroke="none" stroke-width="1" />
<rect x="655.3" y="610.0" width="6.6" height="4.7" rx="0" fill="#2ba3d2" stroke="none" stroke-width="1" />
<rect x="655.3" y="614.5" width="6.6" height="4.7" rx="0" fill="#c4ccdc" stroke="none" stroke-width="1" />
<rect x="655.3" y="619.0" width="6.6" height="4.7" rx="0" fill="#c6e6f2" stroke="none" stroke-width="1" />
<rect x="655.3" y="623.5" width="6.6" height="4.7" rx="0" fill="#b9d3ea" stroke="none" stroke-width="1" />
<rect x="655.3" y="628.0" width="6.6" height="4.7" rx="0" fill="#b9d3ea" stroke="none" stroke-width="1" />
<rect x="655.3" y="632.5" width="6.6" height="4.7" rx="0" fill="#1d4c73" stroke="none" stroke-width="1" />
<rect x="655.3" y="636.9" width="6.6" height="4.7" rx="0" fill="#f3f0a8" stroke="none" stroke-width="1" />
<rect x="655.3" y="641.4" width="6.6" height="4.7" rx="0" fill="#f3f0a8" stroke="none" stroke-width="1" />
<rect x="655.3" y="645.9" width="6.6" height="4.7" rx="0" fill="#d3cdea" stroke="none" stroke-width="1" />
<rect x="655.3" y="650.4" width="6.6" height="4.7" rx="0" fill="#c4ccdc" stroke="none" stroke-width="1" />
<rect x="655.3" y="654.9" width="6.6" height="4.7" rx="0" fill="#c6e6f2" stroke="none" stroke-width="1" />
<rect x="655.3" y="659.4" width="6.6" height="4.7" rx="0" fill="#b9d3ea" stroke="none" stroke-width="1" />
<rect x="655.3" y="663.8" width="6.6" height="4.7" rx="0" fill="#b9d3ea" stroke="none" stroke-width="1" />
<rect x="655.3" y="668.3" width="6.6" height="4.7" rx="0" fill="#f2cddb" stroke="none" stroke-width="1" />
<rect x="655.3" y="547.3" width="6.6" height="125.5" rx="0" fill="none" stroke="#b0b0b0" stroke-width="0.4" />
<text x="782.8" y="515.0" font-size="10" fill="#222" text-anchor="middle" font-weight="normal" >Target task</text>
<rect x="737.0" y="524.4" width="14.2" height="137.3" rx="0" fill="#fbe6db" stroke="#b8a298" stroke-width="0.8" />
<text x="744.1" y="542.0" font-size="11" fill="#1a1a1a" text-anchor="middle" font-weight="normal" stroke="#1a1a1a" stroke-width="0.3">0</text>
<text x="744.1" y="570.0" font-size="11" fill="#1a1a1a" text-anchor="middle" font-weight="normal" stroke="#1a1a1a" stroke-width="0.3">1</text>
<text x="744.1" y="598.0" font-size="11" fill="#1a1a1a" text-anchor="middle" font-weight="normal" stroke="#1a1a1a" stroke-width="0.3">0</text>
<circle cx="744.1" cy="621.0" r="0.55" fill="#333"/>
<circle cx="744.1" cy="624.0" r="0.55" fill="#333"/>
<circle cx="744.1" cy="627.0" r="0.55" fill="#333"/>
<text x="744.1" y="654.0" font-size="11" fill="#1a1a1a" text-anchor="middle" font-weight="normal" stroke="#1a1a1a" stroke-width="0.3">0</text>
<rect x="747.5" y="540.8" width="13.5" height="140.2" rx="0" fill="#fbe6db" stroke="#b8a298" stroke-width="0.8" />
<text x="754.2" y="558.0" font-size="11" fill="#1a1a1a" text-anchor="middle" font-weight="normal" stroke="#1a1a1a" stroke-width="0.3">0</text>
<text x="754.2" y="586.0" font-size="11" fill="#1a1a1a" text-anchor="middle" font-weight="normal" stroke="#1a1a1a" stroke-width="0.3">0</text>
<text x="754.2" y="614.0" font-size="11" fill="#1a1a1a" text-anchor="middle" font-weight="normal" stroke="#1a1a1a" stroke-width="0.3">0</text>
<circle cx="754.2" cy="637.0" r="0.55" fill="#333"/>
<circle cx="754.2" cy="640.0" r="0.55" fill="#333"/>
<circle cx="754.2" cy="643.0" r="0.55" fill="#333"/>
<text x="754.2" y="670.0" font-size="11" fill="#1a1a1a" text-anchor="middle" font-weight="normal" stroke="#1a1a1a" stroke-width="0.3">0</text>
<rect x="757.4" y="557.8" width="14.1" height="137.5" rx="0" fill="#fbe6db" stroke="#b8a298" stroke-width="0.8" />
<text x="764.5" y="575.0" font-size="11" fill="#1a1a1a" text-anchor="middle" font-weight="normal" stroke="#1a1a1a" stroke-width="0.3">0</text>
<text x="764.5" y="603.0" font-size="11" fill="#1a1a1a" text-anchor="middle" font-weight="normal" stroke="#1a1a1a" stroke-width="0.3">1</text>
<text x="764.5" y="631.0" font-size="11" fill="#1a1a1a" text-anchor="middle" font-weight="normal" stroke="#1a1a1a" stroke-width="0.3">0</text>
<circle cx="764.5" cy="652.0" r="0.55" fill="#333"/>
<circle cx="764.5" cy="655.0" r="0.55" fill="#333"/>
<circle cx="764.5" cy="658.0" r="0.55" fill="#333"/>
<text x="764.5" y="687.5" font-size="11" fill="#1a1a1a" text-anchor="middle" font-weight="normal" stroke="#1a1a1a" stroke-width="0.3">0</text>
<rect x="776.6" y="563.1" width="63.4" height="17.6" rx="8.799999999999955" fill="#a2a2a2" stroke="none" stroke-width="1" />
<text x="808.3" y="574.8" font-size="8" fill="#ececec" text-anchor="middle" font-weight="normal" >Atelectasis</text>
<rect x="776.6" y="590.7" width="63.4" height="17.6" rx="8.799999999999955" fill="#4a4a4a" stroke="none" stroke-width="1" />
<text x="808.3" y="602.4" font-size="8" fill="#f2f2f2" text-anchor="middle" font-weight="normal" >Cardiomegaly</text>
<rect x="776.6" y="618.7" width="63.4" height="17.6" rx="8.799999999999955" fill="#a2a2a2" stroke="none" stroke-width="1" />
<text x="808.3" y="630.4" font-size="8" fill="#ececec" text-anchor="middle" font-weight="normal" >Effusion</text>
<rect x="776.6" y="674.6" width="63.4" height="17.6" rx="8.799999999999955" fill="#a2a2a2" stroke="none" stroke-width="1" />
<text x="808.3" y="686.3" font-size="8" fill="#ececec" text-anchor="middle" font-weight="normal" >Hernia</text>
<circle cx="808.3" cy="652.2" r="0.55" fill="#333"/>
<circle cx="808.3" cy="655.2" r="0.55" fill="#333"/>
<circle cx="808.3" cy="658.2" r="0.55" fill="#333"/>
<text x="612.7" y="717.5" font-size="10" fill="#222" text-anchor="end" font-weight="normal" >Pre-generated</text>
<text x="612.7" y="729.5" font-size="10" fill="#222" text-anchor="end" font-weight="normal" >embeddings</text>
<line x1="618.5" y1="711.6" x2="645" y2="700" stroke="#bbb" stroke-width="1.2"/>
<path d="M650 697.8 L642.5 697.6 L644.8 700.2 L644.2 703.5 Z" fill="#bbb"/>
<text x="308.5" y="792.0" font-size="10" fill="#222" text-anchor="middle" font-weight="normal" >Zero-shot transfer</text>
<rect x="228.2" y="821.5" width="331.5" height="137.9" rx="0" fill="none" stroke="#f0bcbc" stroke-width="0.8" stroke-dasharray="1.4 1.6"/>
<path d="M238.7 833.8 L238.7 830.8 Q238.7 825.3 243.2 825.3 Q247.8 825.3 247.8 830.8 L247.8 833.8" fill="none" stroke="#999" stroke-width="1.3"/>
<rect x="235.6" y="833.8" width="15.3" height="12.4" rx="1.5" fill="#fff" stroke="#999" stroke-width="0.9" />
<circle cx="243.2" cy="837.4" r="1.5" fill="none" stroke="#999" stroke-width="0.7"/><line x1="243.2" y1="838.9" x2="243.2" y2="841.6" stroke="#999" stroke-width="0.7"/>
<path d="M258.3 846.2 L355 868.8 L355 914.1 L258.3 934.7 Z" fill="#d8f0cc" stroke="#b0cca4" stroke-width="0.8"/>
<text x="304.4" y="893.8" font-size="10" fill="#8a9a88" text-anchor="middle" font-weight="normal" >Encoder</text>
<rect x="384.7" y="828.5" width="40.3" height="124.7" rx="7" fill="#d8f0cc" stroke="#b0cca4" stroke-width="0.8" />
<text x="0.0" y="0.0" font-size="10" fill="#8a9a88" text-anchor="middle" font-weight="normal" transform="translate(401.5 891.5) rotate(90)">Projector</text>
<rect x="453.9" y="851.1" width="96.3" height="78.7" rx="0" fill="#d8f0cc" stroke="#b0cca4" stroke-width="0.8" />
<text x="502.0" y="884.8" font-size="10" fill="#8a9a88" text-anchor="middle" font-weight="normal" >Multi-task</text>
<text x="502.0" y="897.0" font-size="10" fill="#8a9a88" text-anchor="middle" font-weight="normal" >heads</text>
<line x1="355" y1="892" x2="381.5" y2="892" stroke="#9ab0c0" stroke-width="1"/>
<path d="M384.5 892 L378.5 889.4 L380.0 892 L378.5 894.6 Z" fill="#9ab0c0"/>
<line x1="425" y1="892" x2="450.5" y2="892" stroke="#9ab0c0" stroke-width="1"/>
<path d="M453.5 892 L447.5 889.4 L449.0 892 L447.5 894.6 Z" fill="#9ab0c0"/>
<line x1="550.2" y1="892" x2="571.5" y2="892" stroke="#3f7396" stroke-width="1.2"/>
<path d="M574.5 892 L568.5 889.4 L570.0 892 L568.5 894.6 Z" fill="#3f7396"/>
<text x="622.8" y="792.5" font-size="10" fill="#222" text-anchor="middle" font-weight="normal" >Prediction</text>
<line x1="603" y1="823" x2="622.6" y2="810" stroke="#aaa" stroke-width="1.2" stroke-dasharray="2.2 1.6"/>
<rect x="622.6" y="797.1" width="64.2" height="122.2" rx="0" fill="#d8f0cf" stroke="#9dba94" stroke-width="0.8" />
<rect x="636.4" y="802.3" width="49.3" height="13.0" rx="6.5" fill="#a2a2a2" stroke="none" stroke-width="1" />
<text x="661.0" y="811.5" font-size="7.5" fill="#ececec" text-anchor="middle" font-weight="normal" >Pneumonia</text>
<rect x="636.4" y="821.7" width="49.3" height="13.0" rx="6.5" fill="#a2a2a2" stroke="none" stroke-width="1" />
<text x="661.0" y="830.9" font-size="7.5" fill="#ececec" text-anchor="middle" font-weight="normal" >Nodule</text>
<rect x="636.4" y="842.3" width="49.3" height="13.0" rx="6.5" fill="#a2a2a2" stroke="none" stroke-width="1" />
<text x="661.0" y="851.5" font-size="7.5" fill="#ececec" text-anchor="middle" font-weight="normal" >effusion</text>
<rect x="636.4" y="901.5" width="49.3" height="13.0" rx="6.5" fill="#a2a2a2" stroke="none" stroke-width="1" />
<text x="661.0" y="910.7" font-size="7.5" fill="#ececec" text-anchor="middle" font-weight="normal" >Hernia</text>
<text x="630.0" y="811.5" font-size="7.5" fill="#2f5a2c" text-anchor="middle" font-weight="normal" stroke="#2f5a2c" stroke-width="0.15">0.1</text>
<rect x="580.2" y="826.1" width="69.9" height="121.8" rx="0" fill="#dde9f5" stroke="#a8b2bc" stroke-width="0.8" />
<rect x="595.5" y="831.0" width="54.2" height="12.6" rx="6.300000000000011" fill="#a2a2a2" stroke="none" stroke-width="1" />
<text x="622.6" y="840.0" font-size="7.5" fill="#ececec" text-anchor="middle" font-weight="normal" >Pneumothorax</text>
<rect x="620.0" y="850.3" width="29.7" height="13.0" rx="6.5" fill="#a2a2a2" stroke="none" stroke-width="1" />
<text x="634.9" y="859.5" font-size="7.5" fill="#ececec" text-anchor="middle" font-weight="normal" ></text>
<rect x="620.0" y="869.4" width="29.7" height="13.0" rx="6.5" fill="#a2a2a2" stroke="none" stroke-width="1" />
<text x="634.9" y="878.6" font-size="7.5" fill="#ececec" text-anchor="middle" font-weight="normal" ></text>
<rect x="620.0" y="930.8" width="29.7" height="13.0" rx="6.5" fill="#a2a2a2" stroke="none" stroke-width="1" />
<text x="634.9" y="940.0" font-size="7.5" fill="#ececec" text-anchor="middle" font-weight="normal" ></text>
<circle cx="644" cy="896" r="0.5" fill="#888"/>
<circle cx="667" cy="877" r="0.5" fill="#888"/>
<circle cx="644" cy="899" r="0.5" fill="#888"/>
<circle cx="667" cy="880" r="0.5" fill="#888"/>
<circle cx="644" cy="902" r="0.5" fill="#888"/>
<circle cx="667" cy="883" r="0.5" fill="#888"/>
<text x="588.5" y="840.0" font-size="7.5" fill="#3a4756" text-anchor="middle" font-weight="normal" stroke="#3a4756" stroke-width="0.15">0.3</text>
<rect x="575.0" y="843.0" width="63.5" height="121.8" rx="0" fill="#f0cfe8" stroke="#b898b0" stroke-width="0.8" />
<rect x="588.3" y="847.8" width="49.1" height="14.6" rx="7.2999999999999545" fill="#a2a2a2" stroke="none" stroke-width="1" />
<text x="612.8" y="854.1" font-size="7" fill="#ececec" text-anchor="middle" font-weight="normal" >Pleural</text>
<text x="612.8" y="861.1" font-size="7" fill="#ececec" text-anchor="middle" font-weight="normal" >effusion</text>
<text x="581.8" y="857.8" font-size="7.5" fill="#4a2a5a" text-anchor="middle" font-weight="normal" stroke="#4a2a5a" stroke-width="0.15">0.2</text>
<rect x="588.3" y="867.5" width="49.1" height="14.6" rx="7.2999999999999545" fill="#a2a2a2" stroke="none" stroke-width="1" />
<text x="612.8" y="877.5" font-size="7.5" fill="#ececec" text-anchor="middle" font-weight="normal" >Lung tumour</text>
<text x="581.8" y="877.5" font-size="7.5" fill="#4a2a5a" text-anchor="middle" font-weight="normal" stroke="#4a2a5a" stroke-width="0.15">0.8</text>
<rect x="588.3" y="887.2" width="49.1" height="14.6" rx="7.2999999999999545" fill="#a2a2a2" stroke="none" stroke-width="1" />
<text x="612.8" y="897.2" font-size="7.5" fill="#ececec" text-anchor="middle" font-weight="normal" >Pneumonia</text>
<text x="581.8" y="897.2" font-size="7.5" fill="#4a2a5a" text-anchor="middle" font-weight="normal" stroke="#4a2a5a" stroke-width="0.15">0.3</text>
<rect x="588.3" y="907.1" width="49.1" height="14.6" rx="7.2999999999999545" fill="#a2a2a2" stroke="none" stroke-width="1" />
<text x="612.8" y="917.1" font-size="7.5" fill="#ececec" text-anchor="middle" font-weight="normal" >Tuberculosis</text>
<text x="581.8" y="917.1" font-size="7.5" fill="#4a2a5a" text-anchor="middle" font-weight="normal" stroke="#4a2a5a" stroke-width="0.15">0.9</text>
<rect x="588.3" y="927.5" width="49.1" height="14.6" rx="7.2999999999999545" fill="#a2a2a2" stroke="none" stroke-width="1" />
<text x="612.8" y="933.8" font-size="7" fill="#ececec" text-anchor="middle" font-weight="normal" >Other</text>
<text x="612.8" y="940.8" font-size="7" fill="#ececec" text-anchor="middle" font-weight="normal" >diseases</text>
<text x="581.8" y="937.5" font-size="7.5" fill="#4a2a5a" text-anchor="middle" font-weight="normal" stroke="#4a2a5a" stroke-width="0.15">0.1</text>
<rect x="588.3" y="947.4" width="49.1" height="14.6" rx="7.2999999999999545" fill="#a2a2a2" stroke="none" stroke-width="1" />
<text x="612.8" y="957.4" font-size="7.5" fill="#ececec" text-anchor="middle" font-weight="normal" >No finding</text>
<text x="581.8" y="957.4" font-size="7.5" fill="#4a2a5a" text-anchor="middle" font-weight="normal" stroke="#4a2a5a" stroke-width="0.15">0.0</text>
<circle cx="635.7" cy="914.4" r="1.3" fill="#111"/>
<path d="M635.7 914.4 L644.2 914.4 L644.2 972.2 L552.5 972.2" fill="none" stroke="#222" stroke-width="0.9" stroke-dasharray="1.1 0.9"/>
<circle cx="552.5" cy="972.2" r="1.2" fill="#111"/>
<text x="546.5" y="975.7" font-size="10" fill="#222" text-anchor="end" font-weight="normal" >Tuberculosis detection</text>
<circle cx="648" cy="837.3" r="1.3" fill="#111"/>
<path d="M648 837.3 L650.5 837.3 L650.5 988 L545 988" fill="none" stroke="#222" stroke-width="0.9" stroke-dasharray="1.1 0.9"/>
<circle cx="545" cy="988" r="1.2" fill="#111"/>
<text x="539.0" y="991.5" font-size="10" fill="#222" text-anchor="end" font-weight="normal" >Pneumothorax detection</text>
<circle cx="684" cy="828.2" r="1.3" fill="#111"/>
<path d="M684 828.2 L690 828.2 L690 1007.2 L537.4 1007.2" fill="none" stroke="#222" stroke-width="0.9" stroke-dasharray="1.1 0.9"/>
<circle cx="537.4" cy="1007.2" r="1.2" fill="#111"/>
<text x="531.4" y="1010.7" font-size="10" fill="#222" text-anchor="end" font-weight="normal" >Nodule detection</text>
<circle cx="684" cy="808.8" r="1.3" fill="#111"/>
<path d="M684 808.8 L694.2 808.8 L694.2 1025.3 L531.8 1025.3" fill="none" stroke="#222" stroke-width="0.9" stroke-dasharray="1.1 0.9"/>
<circle cx="531.8" cy="1025.3" r="1.2" fill="#111"/>
<text x="525.8" y="1028.8" font-size="10" fill="#222" text-anchor="end" font-weight="normal" >Pneumonia detection</text>
</svg></body></html>
